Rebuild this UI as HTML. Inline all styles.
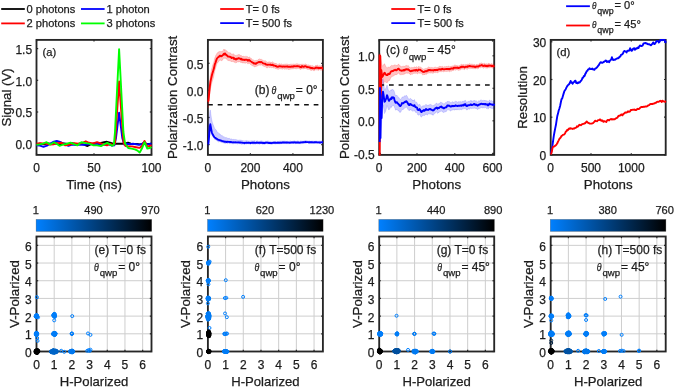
<!DOCTYPE html>
<html><head><meta charset="utf-8"><title>figure</title>
<style>html,body{margin:0;padding:0;background:#fff;}body{width:674px;height:387px;overflow:hidden;font-family:"Liberation Sans",sans-serif;}svg{display:block;will-change:transform;}text{stroke:#1c1c1c;stroke-width:0.25px;}</style>
</head><body>
<svg width="674" height="387" viewBox="0 0 674 387" font-family="'Liberation Sans', sans-serif" fill="#1c1c1c">
<rect width="674" height="387" fill="#fff"/>
<defs><linearGradient id="cb" x1="0" x2="1" y1="0" y2="0"><stop offset="0" stop-color="#0080ff"/><stop offset="1" stop-color="#000"/></linearGradient>
<clipPath id="ct0"><rect x="35.6" y="39.0" width="116.8" height="116.8"/></clipPath>
<clipPath id="cbt0"><rect x="32.5" y="232.5" width="123.0" height="123.0"/></clipPath>
<clipPath id="ct1"><rect x="207" y="39.0" width="116.8" height="116.8"/></clipPath>
<clipPath id="cbt1"><rect x="203.9" y="232.5" width="123.0" height="123.0"/></clipPath>
<clipPath id="ct2"><rect x="378.3" y="39.0" width="116.8" height="116.8"/></clipPath>
<clipPath id="cbt2"><rect x="375.2" y="232.5" width="123.0" height="123.0"/></clipPath>
<clipPath id="ct3"><rect x="549.8" y="39.0" width="116.8" height="116.8"/></clipPath>
<clipPath id="cbt3"><rect x="546.7" y="232.5" width="123.0" height="123.0"/></clipPath>
</defs>
<rect x="36.5" y="39.9" width="115" height="115" fill="none" stroke="#262626" stroke-width="1.85"/>
<line x1="36.5" y1="154.9" x2="36.5" y2="153.2" stroke="#262626" stroke-width="1.2"/>
<line x1="36.5" y1="39.9" x2="36.5" y2="41.6" stroke="#262626" stroke-width="1.2"/>
<line x1="94" y1="154.9" x2="94" y2="153.2" stroke="#262626" stroke-width="1.2"/>
<line x1="94" y1="39.9" x2="94" y2="41.6" stroke="#262626" stroke-width="1.2"/>
<line x1="151.5" y1="154.9" x2="151.5" y2="153.2" stroke="#262626" stroke-width="1.2"/>
<line x1="151.5" y1="39.9" x2="151.5" y2="41.6" stroke="#262626" stroke-width="1.2"/>
<line x1="36.5" y1="143.7" x2="38.2" y2="143.7" stroke="#262626" stroke-width="1.2"/>
<line x1="151.5" y1="143.7" x2="149.8" y2="143.7" stroke="#262626" stroke-width="1.2"/>
<line x1="36.5" y1="112" x2="38.2" y2="112" stroke="#262626" stroke-width="1.2"/>
<line x1="151.5" y1="112" x2="149.8" y2="112" stroke="#262626" stroke-width="1.2"/>
<line x1="36.5" y1="80.3" x2="38.2" y2="80.3" stroke="#262626" stroke-width="1.2"/>
<line x1="151.5" y1="80.3" x2="149.8" y2="80.3" stroke="#262626" stroke-width="1.2"/>
<line x1="36.5" y1="48.6" x2="38.2" y2="48.6" stroke="#262626" stroke-width="1.2"/>
<line x1="151.5" y1="48.6" x2="149.8" y2="48.6" stroke="#262626" stroke-width="1.2"/>
<g clip-path="url(#ct0)">
<path d="M36.5,144.2 L40,143.6 L44,144.3 L48,143.4 L52,144 L56,143.3 L60,144.2 L64,143.5 L68,144 L72,143.2 L76,144.1 L80,143.6 L84,144.6 L87.5,146 L90,144.6 L93,143.6 L97,143.2 L101,142.9 L104,142.3 L107,141.8 L110,142.6 L113,143.6 L116,143.7 L119,143.7 L122,143.7 L125,143.6 L128,142.6 L131,143.6 L134,143.9 L137,144 L140,144.4 L143,143.6 L146,144.2 L149,143.9 L151.5,143.8" fill="none" stroke="#000" stroke-width="1.9" stroke-linejoin="round" />
<path d="M36.5,145.2 L40,145.6 L43.5,146.8 L47,145.6 L50,143.8 L53,142 L56.8,140.9 L60,141.8 L64.4,144 L68.4,145.8 L72,144.6 L76,145 L80,144.6 L84,144.8 L88,144.4 L92,144 L96,143.6 L100,144.2 L104,144.6 L108,144 L112,145.6 L114.4,145.2 L116,138 L119.1,112.63 L122.3,138 L124.2,144.5 L127,143.8 L130,144.2 L133,143.8 L136,144.3 L139,144.8 L142,144 L144.5,141.8 L147,144.6 L150,143.8 L151.5,143.8" fill="none" stroke="#0000ff" stroke-width="1.9" stroke-linejoin="round" />
<path d="M36.5,143.6 L40,143.2 L45.7,143.6 L50,144.6 L54,144.2 L58,143.2 L61.7,142.7 L65.3,145.4 L69,144.8 L74.2,143.1 L78,143.8 L82,143 L85.8,141.3 L89,142.8 L93,143.4 L97,142.2 L100,143.2 L104,144.6 L107,145.4 L110,144 L113.5,145 L115,143 L116.2,125 L119.1,81.57 L122.2,125 L123.6,143 L125.5,146 L128,146.2 L132,146.4 L136,147.2 L139.5,147.9 L142,146 L144.5,140.9 L147,146.4 L150,146 L151.5,145.2" fill="none" stroke="#ff0000" stroke-width="1.9" stroke-linejoin="round" />
<path d="M36.5,144.8 L40,144.4 L43,143.6 L46.6,142.2 L50.1,144.5 L54.1,142.2 L57,144 L59.5,145.8 L63,144.6 L66.2,144 L70.6,142.7 L74,144.2 L77.3,145.4 L81.3,142.2 L85.8,143.1 L89.3,143.6 L93,145.2 L97,145.4 L101,146.1 L104,144.4 L107.2,142.9 L110,144.4 L112.1,145.8 L113.9,144.6 L115,132 L119.1,49.23 L123.4,132 L125,143.5 L128.2,148 L131.5,148.6 L134.9,149.4 L137.5,150.6 L139.7,152.5 L142.2,148 L144.5,142.2 L147.3,148.5 L150,148 L151.5,147" fill="none" stroke="#00ff00" stroke-width="1.9" stroke-linejoin="round" />
</g>
<text x="36.5" y="172.2" font-size="12" text-anchor="middle" >0</text>
<text x="94" y="172.2" font-size="12" text-anchor="middle" >50</text>
<text x="151.5" y="172.2" font-size="12" text-anchor="middle" >100</text>
<text x="32.1" y="148.95" font-size="12" text-anchor="end" >0.0</text>
<text x="32.1" y="117.25" font-size="12" text-anchor="end" >0.5</text>
<text x="32.1" y="85.55" font-size="12" text-anchor="end" >1.0</text>
<text x="32.1" y="53.85" font-size="12" text-anchor="end" >1.5</text>
<text x="94" y="189" font-size="13.3" text-anchor="middle" >Time (ns)</text>
<text transform="translate(10.8,97.4) rotate(-90)" font-size="13.3" text-anchor="middle">Signal (V)</text>
<text x="42.6" y="56.2" font-size="11.2" text-anchor="start" >(a)</text>
<line x1="1.2" y1="9.0" x2="24.8" y2="9.0" stroke="#000" stroke-width="1.8"/>
<text x="26.6" y="12.9" font-size="11.1" text-anchor="start" >0 photons</text>
<line x1="81.0" y1="9.0" x2="104.6" y2="9.0" stroke="#0000ff" stroke-width="1.8"/>
<text x="106.6" y="12.9" font-size="11.1" text-anchor="start" >1 photon</text>
<line x1="1.2" y1="23.4" x2="24.8" y2="23.4" stroke="#ff0000" stroke-width="1.8"/>
<text x="26.6" y="27.3" font-size="11.1" text-anchor="start" >2 photons</text>
<line x1="81.0" y1="23.4" x2="104.6" y2="23.4" stroke="#00ff00" stroke-width="1.8"/>
<text x="106.6" y="27.3" font-size="11.1" text-anchor="start" >3 photons</text>
<rect x="207.9" y="39.9" width="115" height="115" fill="none" stroke="#262626" stroke-width="1.85"/>
<line x1="207.9" y1="154.9" x2="207.9" y2="153.2" stroke="#262626" stroke-width="1.2"/>
<line x1="207.9" y1="39.9" x2="207.9" y2="41.6" stroke="#262626" stroke-width="1.2"/>
<line x1="250.4" y1="154.9" x2="250.4" y2="153.2" stroke="#262626" stroke-width="1.2"/>
<line x1="250.4" y1="39.9" x2="250.4" y2="41.6" stroke="#262626" stroke-width="1.2"/>
<line x1="292.9" y1="154.9" x2="292.9" y2="153.2" stroke="#262626" stroke-width="1.2"/>
<line x1="292.9" y1="39.9" x2="292.9" y2="41.6" stroke="#262626" stroke-width="1.2"/>
<line x1="207.9" y1="63.3" x2="209.6" y2="63.3" stroke="#262626" stroke-width="1.2"/>
<line x1="322.9" y1="63.3" x2="321.2" y2="63.3" stroke="#262626" stroke-width="1.2"/>
<line x1="207.9" y1="90.4" x2="209.6" y2="90.4" stroke="#262626" stroke-width="1.2"/>
<line x1="322.9" y1="90.4" x2="321.2" y2="90.4" stroke="#262626" stroke-width="1.2"/>
<line x1="207.9" y1="117.5" x2="209.6" y2="117.5" stroke="#262626" stroke-width="1.2"/>
<line x1="322.9" y1="117.5" x2="321.2" y2="117.5" stroke="#262626" stroke-width="1.2"/>
<line x1="207.9" y1="144.6" x2="209.6" y2="144.6" stroke="#262626" stroke-width="1.2"/>
<line x1="322.9" y1="144.6" x2="321.2" y2="144.6" stroke="#262626" stroke-width="1.2"/>
<g clip-path="url(#ct1)">
<path d="M208,95.04 L208.5,93.66 L209,88.05 L209.5,82.65 L210,77.85 L210.5,74.36 L211,71.94 L211.5,69.17 L212,67.68 L212.5,65.66 L213,64.31 L213.5,62.96 L214,61.29 L214.5,58.92 L215,57.37 L215.5,56.33 L216,54.67 L216.5,54.19 L217,53.19 L217.5,52.91 L218,52.23 L218.5,51.72 L219,52.08 L219.5,51.46 L220,51.19 L220.5,51.42 L221,51.98 L221.5,51.55 L222,51.79 L222.5,51.06 L223,50.72 L223.5,49.83 L224,49.03 L224.5,50.61 L225,49.38 L225.5,50.21 L226,50.98 L226.5,50.85 L227,50.81 L227.5,52.01 L228,52.45 L228.5,52.41 L229,52.74 L229.5,52.65 L230,52.65 L230.5,52.99 L231,53.34 L231.5,54.28 L232,54.25 L232.5,54.03 L233,54.15 L233.5,53.69 L234,55.33 L234.5,54.66 L235,55.42 L235.5,55.62 L236,55.93 L236.5,55.15 L237,55.53 L237.5,55.05 L238,54.63 L238.5,54.48 L239,54.67 L239.5,54.56 L240,55.26 L240.5,55.28 L241,56.18 L241.5,55.51 L242,56.24 L242.5,56.6 L243,56.02 L243.5,56.26 L244,56.38 L244.5,56.48 L245,56.69 L245.5,56.27 L246,56.72 L246.5,56.33 L247,56.65 L247.5,56.55 L248,57.62 L248.5,57.43 L249,56.83 L249.5,56.91 L250,57.82 L250.5,57.91 L251,58.8 L251.5,58.6 L252,59.25 L252.5,60.04 L253,59.78 L253.5,59.83 L254,60.69 L254.5,60.77 L255,60.49 L255.5,60.57 L256,60.71 L256.5,60.16 L257,59.95 L257.5,60.24 L258,59.69 L258.5,59.51 L259,59.06 L259.5,58.74 L260,59.32 L260.5,59.33 L261,59.16 L261.5,59.19 L262,59.9 L262.5,60.07 L263,60.4 L263.5,60.4 L264,60.9 L264.5,61.14 L265,60.37 L265.5,61.18 L266,61.48 L266.5,61.48 L267,62.19 L267.5,62.27 L268,62.1 L268.5,62.01 L269,61.68 L269.5,61.87 L270,62.12 L270.5,62.26 L271,62.05 L271.5,62.52 L272,62.46 L272.5,61.62 L273,62.64 L273.5,62.81 L274,62.87 L274.5,63.22 L275,62.98 L275.5,63.58 L276,63.1 L276.5,63.93 L277,63.74 L277.5,64.24 L278,64.55 L278.5,64.18 L279,63.61 L279.5,64.03 L280,63.61 L280.5,64.42 L281,63.8 L281.5,63.97 L282,64.23 L282.5,64.41 L283,64.49 L283.5,64.33 L284,63.92 L284.5,64.19 L285,64.45 L285.5,64.1 L286,64.54 L286.5,63.89 L287,63.81 L287.5,63.96 L288,64.69 L288.5,64.6 L289,64.19 L289.5,64.58 L290,63.88 L290.5,64.22 L291,64.58 L291.5,64.15 L292,64.17 L292.5,64.18 L293,64.38 L293.5,63.98 L294,64.11 L294.5,64.16 L295,63.96 L295.5,64.02 L296,63.94 L296.5,63.72 L297,63.87 L297.5,63.92 L298,63.66 L298.5,64.29 L299,63.84 L299.5,64.15 L300,64.91 L300.5,64.31 L301,64.75 L301.5,64.07 L302,63.89 L302.5,64.16 L303,64.43 L303.5,64.29 L304,64.78 L304.5,64.2 L305,64.15 L305.5,63.9 L306,63.9 L306.5,64.54 L307,64.62 L307.5,65.05 L308,65.19 L308.5,64.79 L309,65.03 L309.5,65.1 L310,65.7 L310.5,65.37 L311,65.95 L311.5,65.79 L312,65.81 L312.5,65.56 L313,66.25 L313.5,66.25 L314,66.24 L314.5,66.6 L315,66.06 L315.5,65.75 L316,64.97 L316.5,65.88 L317,65.29 L317.5,65.15 L318,65.5 L318.5,66.27 L319,65.61 L319.5,65.88 L320,65.87 L320.5,66.02 L321,65.41 L321.5,65.38 L322,65.83 L322.5,66.59 L322.9,66.03 L322.9,70.62 L322.5,70.81 L322,70.13 L321.5,70.19 L321,69.34 L320.5,70.39 L320,69.81 L319.5,69.64 L319,70.02 L318.5,70.59 L318,69.85 L317.5,70.05 L317,69.89 L316.5,70.04 L316,69.58 L315.5,70.08 L315,70.24 L314.5,70.64 L314,70.61 L313.5,70.6 L313,70.46 L312.5,69.87 L312,70.3 L311.5,70.25 L311,70.78 L310.5,69.79 L310,70.06 L309.5,69.33 L309,69.57 L308.5,69.41 L308,69.27 L307.5,69.54 L307,69.1 L306.5,68.91 L306,68.95 L305.5,68.3 L305,68.91 L304.5,68.45 L304,69 L303.5,68.88 L303,69.1 L302.5,68.94 L302,68.3 L301.5,69 L301,69.3 L300.5,69.44 L300,69.42 L299.5,68.64 L299,68.84 L298.5,68.17 L298,68.53 L297.5,68.55 L297,68.43 L296.5,68.83 L296,68.91 L295.5,68.67 L295,68.66 L294.5,68.38 L294,68.78 L293.5,68.77 L293,69.08 L292.5,68.89 L292,68.75 L291.5,69.03 L291,69 L290.5,69.17 L290,69.12 L289.5,69.54 L289,69.2 L288.5,69.46 L288,69.44 L287.5,68.92 L287,69.17 L286.5,69.15 L286,68.97 L285.5,68.9 L285,69.47 L284.5,69.07 L284,68.68 L283.5,68.65 L283,68.78 L282.5,69.18 L282,69.22 L281.5,68.87 L281,68.68 L280.5,68.76 L280,68.65 L279.5,68.71 L279,68.7 L278.5,69.41 L278,69.1 L277.5,69.2 L277,69.1 L276.5,68.84 L276,68.59 L275.5,68.57 L275,68.48 L274.5,67.92 L274,67.8 L273.5,68.01 L273,67.9 L272.5,67.26 L272,67.44 L271.5,67.94 L271,67.64 L270.5,67.25 L270,67.49 L269.5,67.46 L269,67.59 L268.5,66.91 L268,67.5 L267.5,67.76 L267,67.54 L266.5,67.66 L266,67.5 L265.5,66.84 L265,66.33 L264.5,66.67 L264,66.01 L263.5,66.11 L263,66.31 L262.5,65.39 L262,65.06 L261.5,64.95 L261,65.23 L260.5,65.2 L260,65.1 L259.5,65.13 L259,64.86 L258.5,65.31 L258,65.69 L257.5,65.88 L257,66 L256.5,66.25 L256,66.4 L255.5,66.55 L255,66.67 L254.5,66.84 L254,66.78 L253.5,65.97 L253,66.02 L252.5,65.96 L252,65.43 L251.5,65.15 L251,64.54 L250.5,64.52 L250,63.76 L249.5,63.44 L249,62.65 L248.5,63.72 L248,63.65 L247.5,63.62 L247,63.27 L246.5,62.64 L246,62.98 L245.5,63.25 L245,62.91 L244.5,63.11 L244,62.89 L243.5,62.94 L243,63 L242.5,62.9 L242,62.86 L241.5,61.84 L241,62.87 L240.5,61.93 L240,62.02 L239.5,61.69 L239,61.9 L238.5,61.95 L238,62.08 L237.5,61.77 L237,62.45 L236.5,62.38 L236,62.75 L235.5,62.8 L235,62.34 L234.5,62.13 L234,62.5 L233.5,61.23 L233,61.58 L232.5,61.57 L232,61.36 L231.5,61.96 L231,61 L230.5,61.13 L230,60.6 L229.5,60.74 L229,60.57 L228.5,60.57 L228,60.85 L227.5,60.09 L227,59.32 L226.5,59.03 L226,58.98 L225.5,58.23 L225,57.88 L224.5,58.54 L224,57.72 L223.5,58.07 L223,59.59 L222.5,59.76 L222,60.7 L221.5,60.67 L221,60.37 L220.5,60.26 L220,60.12 L219.5,60.29 L219,61.34 L218.5,61.55 L218,62.55 L217.5,62.36 L217,63.73 L216.5,65.03 L216,66.81 L215.5,68.38 L215,70.01 L214.5,72.18 L214,74.99 L213.5,77.28 L213,79.1 L212.5,80.48 L212,82.3 L211.5,84.43 L211,86.62 L210.5,88.64 L210,91.86 L209.5,96.06 L209,102.39 L208.5,107.06 L208,107.82Z" fill="#ff0000" fill-opacity="0.24" stroke="#ff0000" stroke-opacity="0.312" stroke-width="0.5"/>
<path d="M208.3,126.61 L208.8,123.14 L209.3,118.09 L209.8,111.63 L210.3,109.91 L210.8,113.58 L211.3,117.32 L211.8,120 L212.3,122.2 L212.8,123.81 L213.3,125.02 L213.8,126.1 L214.3,127.56 L214.8,128.7 L215.3,129.14 L215.8,129.53 L216.3,130.24 L216.8,131.28 L217.3,131.93 L217.8,132.64 L218.3,132.71 L218.8,133.21 L219.3,133.64 L219.8,133.81 L220.3,134.82 L220.8,134.7 L221.3,135.57 L221.8,135.76 L222.3,135.51 L222.8,136.68 L223.3,136.69 L223.8,136.83 L224.3,136.74 L224.8,137.38 L225.3,137.63 L225.8,137.62 L226.3,137.41 L226.8,137.97 L227.3,137.86 L227.8,138.5 L228.3,138.52 L228.8,138.31 L229.3,138.37 L229.8,138.44 L230.3,138.92 L230.8,138.95 L231.3,139.07 L231.8,138.73 L232.3,139.42 L232.8,139.42 L233.3,139.35 L233.8,139.36 L234.3,139.37 L234.8,139.63 L235.3,139.46 L235.8,139.6 L236.3,139.73 L236.8,139.74 L237.3,139.97 L237.8,140.01 L238.3,140.23 L238.8,140.03 L239.3,139.97 L239.8,139.99 L240.3,140.09 L240.8,139.98 L241.3,140.25 L241.8,140.04 L242.3,140.54 L242.8,140.83 L243.3,140.86 L243.8,140.81 L244.3,141.02 L244.8,140.7 L245.3,140.62 L245.8,140.99 L246.3,140.7 L246.8,140.43 L247.3,140.65 L247.8,140.94 L248.3,140.96 L248.8,140.91 L249.3,140.73 L249.8,141.28 L250.3,140.81 L250.8,141.22 L251.3,140.67 L251.8,140.91 L252.3,140.76 L252.8,141.1 L253.3,140.96 L253.8,140.83 L254.3,140.62 L254.8,140.82 L255.3,140.79 L255.8,141.46 L256.3,141.07 L256.8,140.91 L257.3,140.74 L257.8,141.1 L258.3,141.53 L258.8,140.94 L259.3,141 L259.8,141.66 L260.3,141.06 L260.8,140.87 L261.3,140.74 L261.8,141.11 L262.3,141.33 L262.8,140.9 L263.3,141.28 L263.8,141.51 L264.3,141.89 L264.8,141.2 L265.3,141.42 L265.8,140.97 L266.3,141.09 L266.8,141.3 L267.3,140.8 L267.8,141.21 L268.3,141.02 L268.8,141.31 L269.3,141.5 L269.8,141.45 L270.3,141.66 L270.8,141.23 L271.3,141.41 L271.8,141.89 L272.3,141.43 L272.8,141.45 L273.3,141.82 L273.8,141.52 L274.3,141.38 L274.8,141.35 L275.3,141.03 L275.8,141.55 L276.3,141.36 L276.8,141.49 L277.3,141.48 L277.8,141.16 L278.3,141.93 L278.8,141.16 L279.3,141.2 L279.8,140.97 L280.3,141.03 L280.8,141.2 L281.3,141.4 L281.8,140.78 L282.3,141.07 L282.8,141.18 L283.3,140.96 L283.8,141.14 L284.3,141.04 L284.8,140.96 L285.3,141.14 L285.8,141.21 L286.3,141.39 L286.8,141.17 L287.3,141.21 L287.8,141.09 L288.3,141.57 L288.8,141.26 L289.3,141.01 L289.8,141.31 L290.3,140.84 L290.8,141.28 L291.3,141.33 L291.8,141.56 L292.3,141.03 L292.8,141.28 L293.3,140.97 L293.8,141.02 L294.3,140.77 L294.8,140.93 L295.3,141.07 L295.8,141.47 L296.3,141.28 L296.8,141.26 L297.3,140.73 L297.8,141.03 L298.3,141.19 L298.8,140.98 L299.3,141.45 L299.8,141.13 L300.3,140.66 L300.8,141.13 L301.3,140.9 L301.8,140.98 L302.3,141.31 L302.8,140.74 L303.3,141.05 L303.8,140.99 L304.3,140.94 L304.8,140.58 L305.3,140.83 L305.8,140.28 L306.3,140.84 L306.8,140.68 L307.3,140.79 L307.8,140.89 L308.3,140.82 L308.8,141.18 L309.3,140.98 L309.8,140.75 L310.3,141.38 L310.8,141.01 L311.3,140.93 L311.8,141.1 L312.3,140.89 L312.8,141.07 L313.3,140.98 L313.8,141.16 L314.3,141.09 L314.8,141.27 L315.3,140.96 L315.8,141.06 L316.3,141 L316.8,140.97 L317.3,141.14 L317.8,141.16 L318.3,141.67 L318.8,140.84 L319.3,140.95 L319.8,141.11 L320.3,141.11 L320.8,141.08 L321.3,141.06 L321.8,140.81 L322.3,141.01 L322.8,140.98 L322.9,141.13 L322.9,143.03 L322.8,143.37 L322.3,143.28 L321.8,143.03 L321.3,143.26 L320.8,143.57 L320.3,143.4 L319.8,143.47 L319.3,143.39 L318.8,143.47 L318.3,143.37 L317.8,143.55 L317.3,143.35 L316.8,143.79 L316.3,142.73 L315.8,143.4 L315.3,143.35 L314.8,143.51 L314.3,143.25 L313.8,143.53 L313.3,143.42 L312.8,143.41 L312.3,143.31 L311.8,143.46 L311.3,143.19 L310.8,142.99 L310.3,143.51 L309.8,143.14 L309.3,143.79 L308.8,143.37 L308.3,143.2 L307.8,142.84 L307.3,142.94 L306.8,143.29 L306.3,142.98 L305.8,143.1 L305.3,143.49 L304.8,143.41 L304.3,143.32 L303.8,142.93 L303.3,143.31 L302.8,143.53 L302.3,143.42 L301.8,143.57 L301.3,143.69 L300.8,144.06 L300.3,143.41 L299.8,143.66 L299.3,143.63 L298.8,143.47 L298.3,143.87 L297.8,143.32 L297.3,143.4 L296.8,143.38 L296.3,143.67 L295.8,143.07 L295.3,143.99 L294.8,143.65 L294.3,143.4 L293.8,143.39 L293.3,143.96 L292.8,143.26 L292.3,143.5 L291.8,143.46 L291.3,143.46 L290.8,143.04 L290.3,143.67 L289.8,143.86 L289.3,143.56 L288.8,143.85 L288.3,143.58 L287.8,143.41 L287.3,143.8 L286.8,143.75 L286.3,143.57 L285.8,143.16 L285.3,143.79 L284.8,143.7 L284.3,143.62 L283.8,143.82 L283.3,143.42 L282.8,143.48 L282.3,143.91 L281.8,143.35 L281.3,143.82 L280.8,143.96 L280.3,143.64 L279.8,144.09 L279.3,143.89 L278.8,143.86 L278.3,143.79 L277.8,143.73 L277.3,143.89 L276.8,144.04 L276.3,143.71 L275.8,143.82 L275.3,144.13 L274.8,143.78 L274.3,143.95 L273.8,143.86 L273.3,143.57 L272.8,144.01 L272.3,144.16 L271.8,144.11 L271.3,144.57 L270.8,143.92 L270.3,144.22 L269.8,144.03 L269.3,144.04 L268.8,143.95 L268.3,143.75 L267.8,144.2 L267.3,143.57 L266.8,143.43 L266.3,143.64 L265.8,143.99 L265.3,143.94 L264.8,144.39 L264.3,144.2 L263.8,144.05 L263.3,144.25 L262.8,144.13 L262.3,144.31 L261.8,143.66 L261.3,143.99 L260.8,143.42 L260.3,143.86 L259.8,144.4 L259.3,143.95 L258.8,144.18 L258.3,143.37 L257.8,144.11 L257.3,143.81 L256.8,143.7 L256.3,143.62 L255.8,143.95 L255.3,144.23 L254.8,143.92 L254.3,144.18 L253.8,143.64 L253.3,144.38 L252.8,143.96 L252.3,144.06 L251.8,143.67 L251.3,143.68 L250.8,144.3 L250.3,144.44 L249.8,144.06 L249.3,144.07 L248.8,143.81 L248.3,143.98 L247.8,143.52 L247.3,143.8 L246.8,143.74 L246.3,144.2 L245.8,143.91 L245.3,144.06 L244.8,144.35 L244.3,144.63 L243.8,144.1 L243.3,144.09 L242.8,143.89 L242.3,144.2 L241.8,144.35 L241.3,144.17 L240.8,144.14 L240.3,143.36 L239.8,143.87 L239.3,143.69 L238.8,143.23 L238.3,143.87 L237.8,144.01 L237.3,144.1 L236.8,143.81 L236.3,143.57 L235.8,143.64 L235.3,143.52 L234.8,143.42 L234.3,143.35 L233.8,143.95 L233.3,143.83 L232.8,143.82 L232.3,143.7 L231.8,143.47 L231.3,143.75 L230.8,143.82 L230.3,143.29 L229.8,143.87 L229.3,143.79 L228.8,143.1 L228.3,142.96 L227.8,143.16 L227.3,143.68 L226.8,143.37 L226.3,142.93 L225.8,143.35 L225.3,143.45 L224.8,143.14 L224.3,143.18 L223.8,142.91 L223.3,142.99 L222.8,142.77 L222.3,142.68 L221.8,142.15 L221.3,142.52 L220.8,141.93 L220.3,141.93 L219.8,141.73 L219.3,141.54 L218.8,141.97 L218.3,141.92 L217.8,141.49 L217.3,140.84 L216.8,140.81 L216.3,140.26 L215.8,139.93 L215.3,139.58 L214.8,139.61 L214.3,138.99 L213.8,137.66 L213.3,137.21 L212.8,136.56 L212.3,135.93 L211.8,134.09 L211.3,131.9 L210.8,129.23 L210.3,126.46 L209.8,129.22 L209.3,135.78 L208.8,141.89 L208.3,146.74Z" fill="#0000ff" fill-opacity="0.2" stroke="#0000ff" stroke-opacity="0.26" stroke-width="0.5"/>
<line x1="207.9" y1="104.8" x2="322.9" y2="104.8" stroke="#111" stroke-width="1.45" stroke-dasharray="4.7 4.9" stroke-dashoffset="-0.2"/>
<path d="M208,101.55 L208.5,100.4 L209,95.07 L209.5,89.58 L210,84.99 L210.5,81.46 L211,79.12 L211.5,76.99 L212,74.77 L212.5,73.02 L213,71.62 L213.5,69.68 L214,68.14 L214.5,65.72 L215,63.79 L215.5,62.58 L216,61.11 L216.5,59.68 L217,58.33 L217.5,57.87 L218,57.38 L218.5,56.95 L219,56.84 L219.5,55.91 L220,55.76 L220.5,55.71 L221,56.36 L221.5,56.07 L222,56.08 L222.5,55.3 L223,55.13 L223.5,54.11 L224,53.65 L224.5,54.43 L225,53.45 L225.5,54.25 L226,54.81 L226.5,54.99 L227,55.5 L227.5,55.96 L228,56.56 L228.5,56.59 L229,56.61 L229.5,56.7 L230,56.68 L230.5,57.1 L231,57.22 L231.5,58.08 L232,57.73 L232.5,57.77 L233,57.91 L233.5,57.69 L234,58.95 L234.5,58.53 L235,58.97 L235.5,58.99 L236,59.49 L236.5,58.66 L237,58.92 L237.5,58.51 L238,58.31 L238.5,58.09 L239,58.51 L239.5,58.34 L240,58.54 L240.5,58.84 L241,59.53 L241.5,58.85 L242,59.44 L242.5,59.75 L243,59.62 L243.5,59.75 L244,59.61 L244.5,60 L245,59.92 L245.5,59.74 L246,59.58 L246.5,59.64 L247,59.86 L247.5,59.9 L248,60.76 L248.5,60.46 L249,59.85 L249.5,60.32 L250,60.74 L250.5,61.21 L251,61.49 L251.5,61.77 L252,62.16 L252.5,62.68 L253,62.78 L253.5,62.92 L254,63.67 L254.5,63.64 L255,63.22 L255.5,63.7 L256,63.68 L256.5,63.3 L257,62.82 L257.5,62.8 L258,62.48 L258.5,62.22 L259,61.96 L259.5,61.94 L260,62.33 L260.5,62.25 L261,61.93 L261.5,62.2 L262,62.39 L262.5,62.85 L263,63.34 L263.5,63.43 L264,63.55 L264.5,63.7 L265,63.59 L265.5,63.98 L266,64.49 L266.5,64.64 L267,64.69 L267.5,64.76 L268,64.7 L268.5,64.62 L269,64.67 L269.5,64.63 L270,64.71 L270.5,64.51 L271,64.86 L271.5,65.08 L272,64.97 L272.5,64.62 L273,64.94 L273.5,65.5 L274,65.5 L274.5,65.59 L275,65.66 L275.5,66.05 L276,65.98 L276.5,66.43 L277,66.48 L277.5,66.78 L278,66.76 L278.5,66.67 L279,66.28 L279.5,66.17 L280,66.18 L280.5,66.42 L281,66.5 L281.5,66.33 L282,66.47 L282.5,66.72 L283,66.63 L283.5,66.49 L284,66.38 L284.5,66.62 L285,66.75 L285.5,66.48 L286,66.6 L286.5,66.49 L287,66.33 L287.5,66.71 L288,66.9 L288.5,66.68 L289,66.7 L289.5,66.83 L290,66.65 L290.5,66.63 L291,66.83 L291.5,66.33 L292,66.44 L292.5,66.62 L293,66.7 L293.5,66.29 L294,66.37 L294.5,66.13 L295,66.29 L295.5,66.42 L296,66.42 L296.5,66.21 L297,66.09 L297.5,66.36 L298,66.13 L298.5,66.31 L299,66.45 L299.5,66.37 L300,66.98 L300.5,66.88 L301,67.33 L301.5,66.64 L302,66.03 L302.5,66.43 L303,66.68 L303.5,66.66 L304,66.72 L304.5,66.32 L305,66.34 L305.5,66.27 L306,66.43 L306.5,66.86 L307,67 L307.5,67.21 L308,67.13 L308.5,67.15 L309,67.31 L309.5,67.36 L310,67.81 L310.5,67.64 L311,68.22 L311.5,67.96 L312,68.23 L312.5,67.98 L313,68.39 L313.5,68.34 L314,68.37 L314.5,68.48 L315,68.23 L315.5,67.92 L316,67.43 L316.5,67.86 L317,67.72 L317.5,67.64 L318,67.73 L318.5,68.3 L319,67.84 L319.5,67.96 L320,67.9 L320.5,68.09 L321,67.66 L321.5,67.67 L322,68 L322.5,68.44 L322.9,68.2" fill="none" stroke="#ff0000" stroke-width="1.9" stroke-linejoin="round" />
<path d="M208.3,144.42 L208.8,139.85 L209.3,133.49 L209.8,126.92 L210.3,124.24 L210.8,127 L211.3,129.73 L211.8,132.18 L212.3,133.77 L212.8,134.58 L213.3,135.47 L213.8,136.3 L214.3,137.11 L214.8,137.52 L215.3,137.82 L215.8,138.21 L216.3,138.67 L216.8,138.97 L217.3,139.17 L217.8,139.56 L218.3,139.77 L218.8,139.94 L219.3,140.12 L219.8,140.23 L220.3,140.35 L220.8,140.48 L221.3,140.79 L221.8,140.92 L222.3,141.05 L222.8,141.2 L223.3,141.43 L223.8,141.49 L224.3,141.52 L224.8,141.79 L225.3,141.74 L225.8,141.73 L226.3,141.81 L226.8,141.99 L227.3,141.92 L227.8,141.76 L228.3,141.86 L228.8,141.86 L229.3,141.87 L229.8,141.95 L230.3,142.01 L230.8,142.06 L231.3,142.07 L231.8,142.2 L232.3,142.34 L232.8,142.35 L233.3,142.32 L233.8,142.37 L234.3,142.4 L234.8,142.32 L235.3,142.3 L235.8,142.39 L236.3,142.39 L236.8,142.38 L237.3,142.4 L237.8,142.41 L238.3,142.43 L238.8,142.3 L239.3,142.46 L239.8,142.49 L240.3,142.44 L240.8,142.53 L241.3,142.57 L241.8,142.58 L242.3,142.67 L242.8,142.83 L243.3,142.85 L243.8,142.94 L244.3,143.05 L244.8,142.92 L245.3,142.85 L245.8,142.88 L246.3,142.73 L246.8,142.71 L247.3,142.8 L247.8,142.87 L248.3,142.89 L248.8,142.73 L249.3,142.9 L249.8,142.92 L250.3,142.95 L250.8,142.96 L251.3,142.81 L251.8,142.71 L252.3,142.64 L252.8,142.8 L253.3,142.75 L253.8,142.74 L254.3,142.74 L254.8,142.8 L255.3,142.84 L255.8,142.87 L256.3,142.78 L256.8,142.57 L257.3,142.63 L257.8,142.69 L258.3,142.82 L258.8,142.83 L259.3,142.8 L259.8,142.85 L260.3,142.75 L260.8,142.69 L261.3,142.65 L261.8,142.7 L262.3,142.88 L262.8,142.93 L263.3,143 L263.8,143 L264.3,142.99 L264.8,142.94 L265.3,142.91 L265.8,142.72 L266.3,142.65 L266.8,142.59 L267.3,142.68 L267.8,142.75 L268.3,142.85 L268.8,142.96 L269.3,142.91 L269.8,142.97 L270.3,143.09 L270.8,143.05 L271.3,143.09 L271.8,143.03 L272.3,142.88 L272.8,142.88 L273.3,142.81 L273.8,142.81 L274.3,142.77 L274.8,142.8 L275.3,142.64 L275.8,142.81 L276.3,142.9 L276.8,142.85 L277.3,142.76 L277.8,142.76 L278.3,142.8 L278.8,142.82 L279.3,142.83 L279.8,142.67 L280.3,142.59 L280.8,142.7 L281.3,142.72 L281.8,142.6 L282.3,142.55 L282.8,142.46 L283.3,142.41 L283.8,142.53 L284.3,142.53 L284.8,142.63 L285.3,142.64 L285.8,142.53 L286.3,142.49 L286.8,142.68 L287.3,142.61 L287.8,142.53 L288.3,142.63 L288.8,142.63 L289.3,142.62 L289.8,142.72 L290.3,142.57 L290.8,142.59 L291.3,142.51 L291.8,142.41 L292.3,142.37 L292.8,142.48 L293.3,142.47 L293.8,142.34 L294.3,142.29 L294.8,142.43 L295.3,142.51 L295.8,142.43 L296.3,142.62 L296.8,142.57 L297.3,142.46 L297.8,142.45 L298.3,142.52 L298.8,142.63 L299.3,142.68 L299.8,142.61 L300.3,142.54 L300.8,142.41 L301.3,142.41 L301.8,142.36 L302.3,142.39 L302.8,142.29 L303.3,142.27 L303.8,142.22 L304.3,142.16 L304.8,142.1 L305.3,142.06 L305.8,142.02 L306.3,142.11 L306.8,142.16 L307.3,142.09 L307.8,142.16 L308.3,142.21 L308.8,142.33 L309.3,142.32 L309.8,142.3 L310.3,142.25 L310.8,142.27 L311.3,142.31 L311.8,142.32 L312.3,142.3 L312.8,142.34 L313.3,142.33 L313.8,142.34 L314.3,142.26 L314.8,142.28 L315.3,142.2 L315.8,142.14 L316.3,142.17 L316.8,142.34 L317.3,142.39 L317.8,142.37 L318.3,142.33 L318.8,142.39 L319.3,142.46 L319.8,142.51 L320.3,142.45 L320.8,142.43 L321.3,142.37 L321.8,142.32 L322.3,142.23 L322.8,142.21 L322.9,142.2" fill="none" stroke="#0000ff" stroke-width="1.9" stroke-linejoin="round" />
</g>
<text x="207.9" y="172.2" font-size="12" text-anchor="middle" >0</text>
<text x="250.4" y="172.2" font-size="12" text-anchor="middle" >200</text>
<text x="292.9" y="172.2" font-size="12" text-anchor="middle" >400</text>
<text x="203.5" y="68.55" font-size="12" text-anchor="end" >0.5</text>
<text x="203.5" y="95.65" font-size="12" text-anchor="end" >0.0</text>
<text x="203.5" y="122.75" font-size="12" text-anchor="end" >-0.5</text>
<text x="203.5" y="149.85" font-size="12" text-anchor="end" >-1.0</text>
<text x="265.4" y="189" font-size="13.3" text-anchor="middle" >Photons</text>
<text transform="translate(177.3,97.4) rotate(-90)" font-size="13.3" text-anchor="middle">Polarization Contrast</text>
<text x="254.8" y="93.6" font-size="12" text-anchor="start" >(b)</text>
<text x="271.6" y="93.6" font-size="12" text-anchor="start"><tspan font-style="italic" font-size="10.32" textLength="4.8" lengthAdjust="spacingAndGlyphs">θ</tspan><tspan font-size="9.6" dy="5.64" dx="0.9">qwp</tspan><tspan dy="-5.64" dx="0.9">= 0°</tspan></text>
<line x1="220.2" y1="9.0" x2="243.8" y2="9.0" stroke="#ff0000" stroke-width="1.8"/>
<text x="245.8" y="12.9" font-size="11" text-anchor="start" >T= 0 fs</text>
<line x1="220.2" y1="23.1" x2="243.8" y2="23.1" stroke="#0000ff" stroke-width="1.8"/>
<text x="245.8" y="27" font-size="11" text-anchor="start" >T= 500 fs</text>
<rect x="379.2" y="39.9" width="115" height="115" fill="none" stroke="#262626" stroke-width="1.85"/>
<line x1="379.2" y1="154.9" x2="379.2" y2="153.2" stroke="#262626" stroke-width="1.2"/>
<line x1="379.2" y1="39.9" x2="379.2" y2="41.6" stroke="#262626" stroke-width="1.2"/>
<line x1="416.98" y1="154.9" x2="416.98" y2="153.2" stroke="#262626" stroke-width="1.2"/>
<line x1="416.98" y1="39.9" x2="416.98" y2="41.6" stroke="#262626" stroke-width="1.2"/>
<line x1="454.76" y1="154.9" x2="454.76" y2="153.2" stroke="#262626" stroke-width="1.2"/>
<line x1="454.76" y1="39.9" x2="454.76" y2="41.6" stroke="#262626" stroke-width="1.2"/>
<line x1="492.54" y1="154.9" x2="492.54" y2="153.2" stroke="#262626" stroke-width="1.2"/>
<line x1="492.54" y1="39.9" x2="492.54" y2="41.6" stroke="#262626" stroke-width="1.2"/>
<line x1="379.2" y1="55.8" x2="380.9" y2="55.8" stroke="#262626" stroke-width="1.2"/>
<line x1="494.2" y1="55.8" x2="492.5" y2="55.8" stroke="#262626" stroke-width="1.2"/>
<line x1="379.2" y1="88.3" x2="380.9" y2="88.3" stroke="#262626" stroke-width="1.2"/>
<line x1="494.2" y1="88.3" x2="492.5" y2="88.3" stroke="#262626" stroke-width="1.2"/>
<line x1="379.2" y1="120.8" x2="380.9" y2="120.8" stroke="#262626" stroke-width="1.2"/>
<line x1="494.2" y1="120.8" x2="492.5" y2="120.8" stroke="#262626" stroke-width="1.2"/>
<line x1="379.2" y1="153.3" x2="380.9" y2="153.3" stroke="#262626" stroke-width="1.2"/>
<line x1="494.2" y1="153.3" x2="492.5" y2="153.3" stroke="#262626" stroke-width="1.2"/>
<g clip-path="url(#ct2)">
<path d="M380,53.22 L382.2,65.99 L382.7,66.05 L383.2,65.42 L383.7,64.61 L384.2,63.79 L384.7,63.89 L385.2,65.25 L385.7,66.08 L386.2,67.18 L386.7,67.65 L387.2,67.74 L387.7,67.97 L388.2,66.77 L388.7,67.27 L389.2,67.47 L389.7,67.8 L390.2,66.52 L390.7,65.94 L391.2,65.52 L391.7,65.42 L392.2,65.66 L392.7,65.59 L393.2,65.69 L393.7,65.27 L394.2,64.9 L394.7,65.05 L395.2,64.72 L395.7,65.28 L396.2,65.39 L396.7,65.56 L397.2,65 L397.7,64.98 L398.2,64.41 L398.7,64.09 L399.2,65.01 L399.7,65.83 L400.2,65.87 L400.7,65.96 L401.2,66.65 L401.7,66.67 L402.2,66.48 L402.7,66.33 L403.2,66.45 L403.7,65.99 L404.2,66.06 L404.7,66.5 L405.2,65.85 L405.7,65.69 L406.2,66.01 L406.7,65.22 L407.2,65.5 L407.7,66.19 L408.2,65.54 L408.7,66.29 L409.2,66.73 L409.7,67.56 L410.2,67.35 L410.7,68.22 L411.2,67.7 L411.7,67.26 L412.2,67.56 L412.7,67.54 L413.2,67.64 L413.7,67.26 L414.2,66.8 L414.7,66.95 L415.2,67.92 L415.7,67.07 L416.2,66.93 L416.7,66.47 L417.2,67.72 L417.7,67.72 L418.2,67.03 L418.7,66.25 L419.2,67.19 L419.7,66.69 L420.2,67.17 L420.7,66.95 L421.2,67.73 L421.7,67.99 L422.2,68.45 L422.7,68.65 L423.2,68.98 L423.7,69.19 L424.2,69 L424.7,68.79 L425.2,68.3 L425.7,68.63 L426.2,68.21 L426.7,69.09 L427.2,68.1 L427.7,67.7 L428.2,67.76 L428.7,66.7 L429.2,67.13 L429.7,67.55 L430.2,67.16 L430.7,68.12 L431.2,67.72 L431.7,67.33 L432.2,67.58 L432.7,67.63 L433.2,67.85 L433.7,67.68 L434.2,67.47 L434.7,67.27 L435.2,67.13 L435.7,67.21 L436.2,67.49 L436.7,67.74 L437.2,67.13 L437.7,67.77 L438.2,67.26 L438.7,66.82 L439.2,66.54 L439.7,66.23 L440.2,67.05 L440.7,66.33 L441.2,67.01 L441.7,66.53 L442.2,66.23 L442.7,66.77 L443.2,66.64 L443.7,67.14 L444.2,66.76 L444.7,66.61 L445.2,66.61 L445.7,66.97 L446.2,66.22 L446.7,66.54 L447.2,66.69 L447.7,66.38 L448.2,66.41 L448.7,65.77 L449.2,67.01 L449.7,66.84 L450.2,66.25 L450.7,66.46 L451.2,66.14 L451.7,66.34 L452.2,65.77 L452.7,66.16 L453.2,66.17 L453.7,65.62 L454.2,65.14 L454.7,65.09 L455.2,65.36 L455.7,64.97 L456.2,65.34 L456.7,65.58 L457.2,65.77 L457.7,65.38 L458.2,65.77 L458.7,65.9 L459.2,65.39 L459.7,65.58 L460.2,65.64 L460.7,64.6 L461.2,64.36 L461.7,64.3 L462.2,64.69 L462.7,64.82 L463.2,64.13 L463.7,64.56 L464.2,64.7 L464.7,64.79 L465.2,64.91 L465.7,64.22 L466.2,64.37 L466.7,64.68 L467.2,64.74 L467.7,63.88 L468.2,64.18 L468.7,64.34 L469.2,64.1 L469.7,63.46 L470.2,63.75 L470.7,64.68 L471.2,64.31 L471.7,64.02 L472.2,64.18 L472.7,64.13 L473.2,64.15 L473.7,64.66 L474.2,64.53 L474.7,64.29 L475.2,65.24 L475.7,64.96 L476.2,64.46 L476.7,64.35 L477.2,64.07 L477.7,64.63 L478.2,64.38 L478.7,64.38 L479.2,63.62 L479.7,63.16 L480.2,63.19 L480.7,63.23 L481.2,63.07 L481.7,62.8 L482.2,63.45 L482.7,63.34 L483.2,64.07 L483.7,63.48 L484.2,63.58 L484.7,63.19 L485.2,63.56 L485.7,64.08 L486.2,63.69 L486.7,63.68 L487.2,64.44 L487.7,63.93 L488.2,62.9 L488.7,63.58 L489.2,63.73 L489.7,63.57 L490.2,64.09 L490.7,64 L491.2,63.69 L491.7,63.56 L492.2,64.11 L492.7,63.9 L493.2,64.31 L493.7,63.83 L494.2,63.62 L494.2,67.19 L493.7,68.02 L493.2,68.19 L492.7,68.53 L492.2,67.58 L491.7,67.52 L491.2,68.05 L490.7,67.85 L490.2,67.27 L489.7,67.68 L489.2,67.91 L488.7,68.05 L488.2,67.25 L487.7,68.22 L487.2,68.1 L486.7,68.28 L486.2,67.84 L485.7,68.26 L485.2,67.5 L484.7,67.62 L484.2,67.7 L483.7,68.13 L483.2,68.3 L482.7,67.81 L482.2,67.36 L481.7,67.24 L481.2,67.42 L480.7,67.81 L480.2,67.78 L479.7,67.35 L479.2,67.96 L478.7,68.48 L478.2,68.41 L477.7,68.83 L477.2,68.68 L476.7,68.39 L476.2,68.41 L475.7,68.56 L475.2,69.18 L474.7,68.3 L474.2,68.79 L473.7,68.85 L473.2,68.41 L472.7,68.27 L472.2,68.92 L471.7,68.68 L471.2,68.29 L470.7,68.59 L470.2,68.6 L469.7,68.21 L469.2,68.77 L468.7,68.51 L468.2,68.43 L467.7,68.11 L467.2,69.69 L466.7,69.21 L466.2,68.66 L465.7,68.33 L465.2,68.84 L464.7,69.73 L464.2,69.58 L463.7,69.36 L463.2,69.03 L462.7,68.94 L462.2,69.19 L461.7,69.02 L461.2,69.28 L460.7,69.67 L460.2,69.98 L459.7,69.58 L459.2,70.41 L458.7,70.46 L458.2,69.92 L457.7,69.82 L457.2,70.08 L456.7,69.53 L456.2,70.01 L455.7,70.14 L455.2,70.16 L454.7,70.04 L454.2,69.93 L453.7,70.36 L453.2,70.74 L452.7,70.59 L452.2,70.76 L451.7,70.98 L451.2,71.39 L450.7,70.95 L450.2,71.28 L449.7,72.02 L449.2,71.62 L448.7,71.19 L448.2,71.34 L447.7,71.4 L447.2,71.23 L446.7,71.47 L446.2,71.55 L445.7,71.42 L445.2,71.36 L444.7,71.36 L444.2,71.7 L443.7,71.76 L443.2,71.86 L442.7,71.51 L442.2,71.31 L441.7,71.59 L441.2,71.8 L440.7,71.55 L440.2,71.85 L439.7,71.78 L439.2,71.63 L438.7,72.07 L438.2,72.42 L437.7,72.68 L437.2,73.02 L436.7,72.35 L436.2,72.35 L435.7,72.67 L435.2,72.6 L434.7,72.6 L434.2,72.29 L433.7,73.23 L433.2,72.95 L432.7,73.13 L432.2,73.25 L431.7,73.08 L431.2,72.87 L430.7,73.28 L430.2,72.32 L429.7,73.21 L429.2,72.7 L428.7,72.6 L428.2,73.52 L427.7,73.17 L427.2,73.15 L426.7,74.32 L426.2,74.24 L425.7,74.14 L425.2,74 L424.7,74.98 L424.2,74.42 L423.7,74.95 L423.2,74.61 L422.7,74.94 L422.2,74.56 L421.7,73.35 L421.2,73.32 L420.7,73.5 L420.2,72.71 L419.7,73.22 L419.2,73.33 L418.7,72.76 L418.2,73.37 L417.7,74.01 L417.2,73.78 L416.7,73.32 L416.2,73.19 L415.7,73.11 L415.2,73.63 L414.7,73.22 L414.2,73.31 L413.7,73.24 L413.2,73.84 L412.7,74.12 L412.2,74.36 L411.7,74.05 L411.2,74.61 L410.7,74.66 L410.2,74.65 L409.7,73.67 L409.2,73.95 L408.7,73.19 L408.2,72.87 L407.7,73.43 L407.2,73.07 L406.7,73.05 L406.2,73.33 L405.7,73.59 L405.2,72.92 L404.7,74.23 L404.2,73.94 L403.7,73.92 L403.2,74.84 L402.7,74.55 L402.2,74.58 L401.7,74.92 L401.2,74.31 L400.7,74.65 L400.2,74.72 L399.7,74.38 L399.2,73.97 L398.7,73.1 L398.2,72.94 L397.7,73.57 L397.2,74.44 L396.7,74.84 L396.2,74.17 L395.7,74.91 L395.2,74.5 L394.7,75.27 L394.2,75.36 L393.7,75.69 L393.2,76.17 L392.7,76.25 L392.2,76.51 L391.7,76.89 L391.2,76.94 L390.7,77.98 L390.2,78.92 L389.7,80.52 L389.2,80.43 L388.7,80.89 L388.2,80.54 L387.7,82.39 L387.2,82.45 L386.7,82.51 L386.2,82.63 L385.7,82.11 L385.2,81.86 L384.7,81.45 L384.2,82.27 L383.7,83.74 L383.2,85.47 L382.7,86.58 L382.2,87.71 L380,112.04Z" fill="#ff0000" fill-opacity="0.24" stroke="#ff0000" stroke-opacity="0.312" stroke-width="0.5"/>
<path d="M380,84.39 L383,78.64 L383.5,81.88 L384,85.78 L384.5,90.03 L385,90.34 L385.5,88.81 L386,87.71 L386.5,86.43 L387,84.98 L387.5,86.25 L388,88.96 L388.5,90.33 L389,91.51 L389.5,91.15 L390,90.89 L390.5,90.16 L391,89.83 L391.5,90.5 L392,88.99 L392.5,89.66 L393,89.55 L393.5,89.91 L394,90.69 L394.5,92.27 L395,94.23 L395.5,95.61 L396,95.4 L396.5,95.42 L397,95.2 L397.5,96.15 L398,96.65 L398.5,97.97 L399,97.49 L399.5,98.78 L400,99.23 L400.5,99.5 L401,98.7 L401.5,98.13 L402,97.17 L402.5,97.02 L403,96.8 L403.5,97.06 L404,96.44 L404.5,95.74 L405,95.7 L405.5,96.15 L406,95.29 L406.5,95.41 L407,96.08 L407.5,96.83 L408,98.2 L408.5,98.86 L409,98.95 L409.5,99.12 L410,98.47 L410.5,98.4 L411,99.18 L411.5,99.3 L412,100.11 L412.5,100.1 L413,99.94 L413.5,100.95 L414,99.92 L414.5,99.57 L415,101.41 L415.5,101.99 L416,102.27 L416.5,102.17 L417,102.45 L417.5,104.35 L418,104.55 L418.5,104.93 L419,104.92 L419.5,103.92 L420,104.63 L420.5,105.84 L421,106.65 L421.5,106.93 L422,106.69 L422.5,105.87 L423,105.93 L423.5,105.75 L424,105.62 L424.5,105.72 L425,105.4 L425.5,105.02 L426,104.3 L426.5,105.12 L427,105.18 L427.5,105.34 L428,104.99 L428.5,105.09 L429,104.93 L429.5,104.85 L430,104.21 L430.5,104.4 L431,104.82 L431.5,104.88 L432,105.34 L432.5,105.41 L433,105.91 L433.5,105.48 L434,105.37 L434.5,104.74 L435,104.29 L435.5,104.16 L436,103.52 L436.5,102.99 L437,103.38 L437.5,104.24 L438,103.51 L438.5,103.91 L439,103.57 L439.5,103.56 L440,102.61 L440.5,102.3 L441,102.72 L441.5,102.2 L442,103.02 L442.5,103.16 L443,103.26 L443.5,103.94 L444,103.77 L444.5,103.78 L445,103.33 L445.5,102.5 L446,102.75 L446.5,103 L447,101.4 L447.5,101.46 L448,101.4 L448.5,101.44 L449,101.42 L449.5,101.6 L450,102.39 L450.5,102.73 L451,102.73 L451.5,102.17 L452,101.66 L452.5,101.87 L453,102.22 L453.5,102.3 L454,102.38 L454.5,101.72 L455,101.74 L455.5,101.25 L456,101.62 L456.5,101.51 L457,101.77 L457.5,102.17 L458,101.64 L458.5,101.84 L459,101.67 L459.5,101.65 L460,101.93 L460.5,101.71 L461,101.49 L461.5,102.07 L462,101.53 L462.5,101.32 L463,101.82 L463.5,101.47 L464,100.64 L464.5,101.05 L465,100.39 L465.5,100.38 L466,101.88 L466.5,102.01 L467,101.97 L467.5,101.99 L468,101.35 L468.5,101.44 L469,101.44 L469.5,101.72 L470,100.62 L470.5,100.97 L471,100.33 L471.5,101.6 L472,100.6 L472.5,101.44 L473,101.17 L473.5,100.8 L474,100.2 L474.5,100.5 L475,101.12 L475.5,101.13 L476,100.47 L476.5,101.44 L477,101.64 L477.5,102.02 L478,101.73 L478.5,100.72 L479,100.95 L479.5,100.94 L480,100.5 L480.5,100.08 L481,100.42 L481.5,99.72 L482,100.44 L482.5,100.7 L483,100.36 L483.5,100.39 L484,100.47 L484.5,100.56 L485,100.03 L485.5,100.8 L486,100.77 L486.5,100.9 L487,100.42 L487.5,101.36 L488,101.81 L488.5,101.74 L489,100.75 L489.5,99.81 L490,100.98 L490.5,100.94 L491,100.74 L491.5,100.61 L492,100.95 L492.5,101.27 L493,101.49 L493.5,101.53 L494,101.18 L494.2,100.22 L494.2,107.3 L494,108.51 L493.5,108.39 L493,108.72 L492.5,108.44 L492,108.13 L491.5,108.51 L491,107.67 L490.5,108.01 L490,108.12 L489.5,106.95 L489,107.68 L488.5,108.66 L488,109.24 L487.5,107.95 L487,108.13 L486.5,108.38 L486,108.19 L485.5,107.6 L485,107.6 L484.5,107.85 L484,107.98 L483.5,107.78 L483,107.88 L482.5,107.96 L482,107.92 L481.5,107.45 L481,107.87 L480.5,108.02 L480,108.17 L479.5,108.67 L479,108.5 L478.5,108.39 L478,109.48 L477.5,109.43 L477,108.59 L476.5,108.92 L476,108.11 L475.5,108.42 L475,108.52 L474.5,108.13 L474,107.92 L473.5,108.43 L473,108.2 L472.5,108.34 L472,108.58 L471.5,108.69 L471,108.2 L470.5,107.92 L470,108.92 L469.5,109.15 L469,109.01 L468.5,108.9 L468,109.27 L467.5,109.65 L467,109.99 L466.5,109.82 L466,109.51 L465.5,108.36 L465,108.33 L464.5,108.67 L464,108.54 L463.5,109.11 L463,109.26 L462.5,109.12 L462,109.24 L461.5,109.73 L461,110.02 L460.5,109.27 L460,109.47 L459.5,109.76 L459,109.59 L458.5,109.66 L458,109.79 L457.5,109.64 L457,109.88 L456.5,109.65 L456,110.11 L455.5,109.2 L455,110.2 L454.5,109.91 L454,110.12 L453.5,109.76 L453,110.1 L452.5,110.02 L452,110.21 L451.5,110.27 L451,110.63 L450.5,110.99 L450,110.78 L449.5,110 L449,109.84 L448.5,109.91 L448,109.56 L447.5,109.61 L447,110.54 L446.5,111.36 L446,111.26 L445.5,111.93 L445,112.05 L444.5,112.03 L444,112.54 L443.5,112.42 L443,111.98 L442.5,111.86 L442,111.7 L441.5,111.1 L441,111.08 L440.5,111.42 L440,111.44 L439.5,111.56 L439,112.68 L438.5,112.48 L438,112.57 L437.5,113.49 L437,112.18 L436.5,111.79 L436,112.4 L435.5,112.87 L435,113.26 L434.5,113.63 L434,114.3 L433.5,114.72 L433,115.42 L432.5,114.49 L432,114.93 L431.5,113.94 L431,114.21 L430.5,114.15 L430,113.57 L429.5,114.28 L429,113.75 L428.5,113.85 L428,114.48 L427.5,114.8 L427,115.15 L426.5,114.54 L426,113.79 L425.5,114.65 L425,114.45 L424.5,115.65 L424,114.94 L423.5,115.32 L423,115.94 L422.5,115.74 L422,116.24 L421.5,117.14 L421,116.79 L420.5,116.35 L420,114.75 L419.5,114 L419,114.89 L418.5,115.18 L418,114.85 L417.5,114.51 L417,112.36 L416.5,112.45 L416,112.47 L415.5,112.29 L415,111.8 L414.5,110.43 L414,110.59 L413.5,111.12 L413,111.18 L412.5,111.2 L412,110.4 L411.5,110.28 L411,110.12 L410.5,110.05 L410,109.14 L409.5,110.53 L409,110.71 L408.5,110.12 L408,109.59 L407.5,108.64 L407,107.42 L406.5,107.11 L406,107.31 L405.5,107.84 L405,107.83 L404.5,107.98 L404,108.71 L403.5,109.33 L403,109.84 L402.5,109.68 L402,109.33 L401.5,110.36 L401,111.64 L400.5,112.46 L400,111.8 L399.5,112.38 L399,110.9 L398.5,110.98 L398,110.01 L397.5,110.21 L397,109.71 L396.5,109.14 L396,110.32 L395.5,110 L395,108.59 L394.5,107.31 L394,105.81 L393.5,105.45 L393,105.18 L392.5,105.83 L392,105.93 L391.5,107.46 L391,106.48 L390.5,107.78 L390,108.47 L389.5,109.33 L389,109.98 L388.5,109.65 L388,108.57 L387.5,106.18 L387,105.65 L386.5,108.05 L386,109.91 L385.5,111.45 L385,112.61 L384.5,113.62 L384,110.46 L383.5,107.19 L383,105.06 L380,142.7Z" fill="#0000ff" fill-opacity="0.2" stroke="#0000ff" stroke-opacity="0.26" stroke-width="0.5"/>
<line x1="379.2" y1="85.0" x2="494.2" y2="85.0" stroke="#111" stroke-width="1.45" stroke-dasharray="4.7 4.9" stroke-dashoffset="-0.2"/>
<path d="M379.5,54.5 L379.7,154.9 L380.3,56 L380.8,100 L381.3,70 L382.2,76.95 L382.7,76.32 L383.2,75.2 L383.7,74.27 L384.2,73.1 L384.7,72.79 L385.2,73.75 L385.7,74.2 L386.2,74.91 L386.7,75.13 L387.2,75.15 L387.7,74.89 L388.2,73.74 L388.7,74.01 L389.2,74.01 L389.7,73.96 L390.2,72.84 L390.7,71.82 L391.2,71.35 L391.7,71.1 L392.2,71.18 L392.7,71 L393.2,70.97 L393.7,70.38 L394.2,70.24 L394.7,70.11 L395.2,69.64 L395.7,70.2 L396.2,70.12 L396.7,70.27 L397.2,69.63 L397.7,69.03 L398.2,68.67 L398.7,68.72 L399.2,69.47 L399.7,70.03 L400.2,70.32 L400.7,70.46 L401.2,70.37 L401.7,70.81 L402.2,70.41 L402.7,70.46 L403.2,70.53 L403.7,69.91 L404.2,69.93 L404.7,70.37 L405.2,69.56 L405.7,69.48 L406.2,69.47 L406.7,69.21 L407.2,69.49 L407.7,69.64 L408.2,69.32 L408.7,69.84 L409.2,70.22 L409.7,70.63 L410.2,71.13 L410.7,71.2 L411.2,71.18 L411.7,70.7 L412.2,70.92 L412.7,70.72 L413.2,70.62 L413.7,70.31 L414.2,70.15 L414.7,70.17 L415.2,70.69 L415.7,70.09 L416.2,69.77 L416.7,70.02 L417.2,70.58 L417.7,70.75 L418.2,70.17 L418.7,69.53 L419.2,69.87 L419.7,69.83 L420.2,69.68 L420.7,70.17 L421.2,70.6 L421.7,70.82 L422.2,71.3 L422.7,71.62 L423.2,71.94 L423.7,71.9 L424.2,71.81 L424.7,71.74 L425.2,71.07 L425.7,71.32 L426.2,71.42 L426.7,71.36 L427.2,70.6 L427.7,70.36 L428.2,70.55 L428.7,69.95 L429.2,69.95 L429.7,70.26 L430.2,69.87 L430.7,70.34 L431.2,70.42 L431.7,70.28 L432.2,70.29 L432.7,70.38 L433.2,70.3 L433.7,70.51 L434.2,70.18 L434.7,69.97 L435.2,70.2 L435.7,70.09 L436.2,69.76 L436.7,69.98 L437.2,70.27 L437.7,69.98 L438.2,69.48 L438.7,69.41 L439.2,69.33 L439.7,69.22 L440.2,69.57 L440.7,69.2 L441.2,69.49 L441.7,69.05 L442.2,68.81 L442.7,68.98 L443.2,69.24 L443.7,69.36 L444.2,69.31 L444.7,69.21 L445.2,69.12 L445.7,69.15 L446.2,68.98 L446.7,68.94 L447.2,68.98 L447.7,68.86 L448.2,68.95 L448.7,68.96 L449.2,69.33 L449.7,69.18 L450.2,68.86 L450.7,68.6 L451.2,68.48 L451.7,68.62 L452.2,68.4 L452.7,68.39 L453.2,68.76 L453.7,67.9 L454.2,67.58 L454.7,67.67 L455.2,67.76 L455.7,67.79 L456.2,67.63 L456.7,67.78 L457.2,67.79 L457.7,67.58 L458.2,68.16 L458.7,68.08 L459.2,67.77 L459.7,67.64 L460.2,67.48 L460.7,67.39 L461.2,66.63 L461.7,66.59 L462.2,66.92 L462.7,66.62 L463.2,66.66 L463.7,66.94 L464.2,67.12 L464.7,67.43 L465.2,66.84 L465.7,66.71 L466.2,66.6 L466.7,66.76 L467.2,66.99 L467.7,66.2 L468.2,66.53 L468.7,66.14 L469.2,66.36 L469.7,65.97 L470.2,66.08 L470.7,66.41 L471.2,66.33 L471.7,66.34 L472.2,66.5 L472.7,66.45 L473.2,66.34 L473.7,66.66 L474.2,66.78 L474.7,66.55 L475.2,67.13 L475.7,66.6 L476.2,66.7 L476.7,66.48 L477.2,66.4 L477.7,66.47 L478.2,66.4 L478.7,66.45 L479.2,65.94 L479.7,65.53 L480.2,65.73 L480.7,65.49 L481.2,65.28 L481.7,64.99 L482.2,65.45 L482.7,65.69 L483.2,66.05 L483.7,65.73 L484.2,65.71 L484.7,65.4 L485.2,65.64 L485.7,66.03 L486.2,65.71 L486.7,66.08 L487.2,66.22 L487.7,66.04 L488.2,65.44 L488.7,65.81 L489.2,65.72 L489.7,65.52 L490.2,65.61 L490.7,65.68 L491.2,66.01 L491.7,65.63 L492.2,65.87 L492.7,66.15 L493.2,66.36 L493.7,66.11 L494.2,65.4" fill="none" stroke="#ff0000" stroke-width="1.9" stroke-linejoin="round" />
<path d="M379.6,142 L380,88 L380.5,138 L381,100 L381.6,118 L382.3,96 L383,91.63 L383.5,94.4 L384,98.13 L384.5,101.79 L385,101.51 L385.5,99.99 L386,98.86 L386.5,97.22 L387,95.22 L387.5,96.16 L388,98.45 L388.5,99.91 L389,100.86 L389.5,100.09 L390,99.56 L390.5,98.61 L391,98.24 L391.5,98.94 L392,97.31 L392.5,97.81 L393,97.17 L393.5,97.61 L394,97.87 L394.5,99.99 L395,101.46 L395.5,102.63 L396,102.79 L396.5,102.14 L397,102.43 L397.5,103.12 L398,103.52 L398.5,104.4 L399,104.43 L399.5,105.68 L400,105.47 L400.5,106.08 L401,105.32 L401.5,104.32 L402,103.03 L402.5,103.19 L403,103.41 L403.5,102.98 L404,102.74 L404.5,102.08 L405,101.81 L405.5,101.96 L406,101.22 L406.5,101.23 L407,101.94 L407.5,102.63 L408,103.81 L408.5,104.57 L409,104.98 L409.5,105.1 L410,103.97 L410.5,104.39 L411,104.26 L411.5,104.94 L412,105.21 L412.5,105.45 L413,105.6 L413.5,105.92 L414,105.36 L414.5,105.18 L415,106.5 L415.5,107.14 L416,107.25 L416.5,107.43 L417,107.6 L417.5,109.57 L418,109.83 L418.5,110 L419,109.89 L419.5,109.06 L420,109.68 L420.5,110.86 L421,111.66 L421.5,112.06 L422,111.52 L422.5,110.81 L423,110.8 L423.5,110.54 L424,109.97 L424.5,110.78 L425,110.2 L425.5,109.95 L426,108.91 L426.5,109.9 L427,109.84 L427.5,109.81 L428,109.93 L428.5,109.52 L429,109.24 L429.5,109.36 L430,108.94 L430.5,109.08 L431,109.55 L431.5,109.69 L432,110.06 L432.5,110.17 L433,110.52 L433.5,110.17 L434,109.94 L434.5,109.08 L435,108.76 L435.5,108.26 L436,108.11 L436.5,107.56 L437,107.67 L437.5,108.65 L438,108.02 L438.5,108.04 L439,108.06 L439.5,107.49 L440,107.18 L440.5,106.82 L441,106.9 L441.5,106.5 L442,107.47 L442.5,107.57 L443,107.75 L443.5,108.29 L444,108.39 L444.5,107.86 L445,107.62 L445.5,107.28 L446,107.09 L446.5,107.2 L447,106.11 L447.5,105.37 L448,105.4 L448.5,105.74 L449,105.65 L449.5,105.71 L450,106.28 L450.5,106.57 L451,106.51 L451.5,106.38 L452,105.85 L452.5,106.14 L453,106.21 L453.5,105.86 L454,106.13 L454.5,106.02 L455,105.93 L455.5,105.36 L456,105.88 L456.5,105.65 L457,105.88 L457.5,106.03 L458,105.81 L458.5,105.8 L459,105.72 L459.5,105.63 L460,105.72 L460.5,105.46 L461,105.75 L461.5,105.75 L462,105.25 L462.5,105.43 L463,105.26 L463.5,105.48 L464,104.6 L464.5,104.89 L465,104.15 L465.5,104.23 L466,105.65 L466.5,105.83 L467,106.11 L467.5,105.68 L468,105.17 L468.5,105.12 L469,105.25 L469.5,105.15 L470,104.85 L470.5,104.53 L471,104.44 L471.5,105.11 L472,105.04 L472.5,104.83 L473,104.7 L473.5,104.35 L474,103.93 L474.5,104.15 L475,104.77 L475.5,104.95 L476,104.39 L476.5,105.01 L477,105.05 L477.5,105.67 L478,105.42 L478.5,104.76 L479,104.8 L479.5,104.68 L480,104.23 L480.5,103.99 L481,103.92 L481.5,103.67 L482,104.03 L482.5,104.19 L483,104.02 L483.5,103.92 L484,104.29 L484.5,104.4 L485,103.9 L485.5,104.02 L486,104.65 L486.5,104.64 L487,104.2 L487.5,104.72 L488,105.48 L488.5,105.23 L489,104.13 L489.5,103.55 L490,104.31 L490.5,104.17 L491,104.37 L491.5,104.47 L492,104.41 L492.5,104.92 L493,104.78 L493.5,104.81 L494,104.73 L494.2,103.8" fill="none" stroke="#0000ff" stroke-width="1.9" stroke-linejoin="round" />
</g>
<text x="379.2" y="172.2" font-size="12" text-anchor="middle" >0</text>
<text x="416.98" y="172.2" font-size="12" text-anchor="middle" >200</text>
<text x="454.76" y="172.2" font-size="12" text-anchor="middle" >400</text>
<text x="492.54" y="172.2" font-size="12" text-anchor="middle" >600</text>
<text x="374.8" y="61.05" font-size="12" text-anchor="end" >1.0</text>
<text x="374.8" y="93.55" font-size="12" text-anchor="end" >0.5</text>
<text x="374.8" y="126.05" font-size="12" text-anchor="end" >0.0</text>
<text x="374.8" y="158.55" font-size="12" text-anchor="end" >-0.5</text>
<text x="436.7" y="189" font-size="13.3" text-anchor="middle" >Photons</text>
<text transform="translate(348.6,97.4) rotate(-90)" font-size="13.3" text-anchor="middle">Polarization Contrast</text>
<text x="386" y="54.4" font-size="12" text-anchor="start" >(c)</text>
<text x="403" y="54.4" font-size="12" text-anchor="start"><tspan font-style="italic" font-size="10.32" textLength="4.8" lengthAdjust="spacingAndGlyphs">θ</tspan><tspan font-size="9.6" dy="5.64" dx="0.9">qwp</tspan><tspan dy="-5.64" dx="0.9">= 45°</tspan></text>
<line x1="391.3" y1="9.0" x2="415.2" y2="9.0" stroke="#ff0000" stroke-width="1.8"/>
<text x="417.6" y="12.9" font-size="11" text-anchor="start" >T= 0 fs</text>
<line x1="391.3" y1="23.1" x2="415.2" y2="23.1" stroke="#0000ff" stroke-width="1.8"/>
<text x="417.6" y="27" font-size="11" text-anchor="start" >T= 500 fs</text>
<rect x="550.7" y="39.9" width="115" height="115" fill="none" stroke="#262626" stroke-width="1.85"/>
<line x1="550.7" y1="154.9" x2="550.7" y2="153.2" stroke="#262626" stroke-width="1.2"/>
<line x1="550.7" y1="39.9" x2="550.7" y2="41.6" stroke="#262626" stroke-width="1.2"/>
<line x1="591" y1="154.9" x2="591" y2="153.2" stroke="#262626" stroke-width="1.2"/>
<line x1="591" y1="39.9" x2="591" y2="41.6" stroke="#262626" stroke-width="1.2"/>
<line x1="631.3" y1="154.9" x2="631.3" y2="153.2" stroke="#262626" stroke-width="1.2"/>
<line x1="631.3" y1="39.9" x2="631.3" y2="41.6" stroke="#262626" stroke-width="1.2"/>
<line x1="550.7" y1="154.9" x2="552.4" y2="154.9" stroke="#262626" stroke-width="1.2"/>
<line x1="665.7" y1="154.9" x2="664" y2="154.9" stroke="#262626" stroke-width="1.2"/>
<line x1="550.7" y1="117.2" x2="552.4" y2="117.2" stroke="#262626" stroke-width="1.2"/>
<line x1="665.7" y1="117.2" x2="664" y2="117.2" stroke="#262626" stroke-width="1.2"/>
<line x1="550.7" y1="79.5" x2="552.4" y2="79.5" stroke="#262626" stroke-width="1.2"/>
<line x1="665.7" y1="79.5" x2="664" y2="79.5" stroke="#262626" stroke-width="1.2"/>
<line x1="550.7" y1="41.8" x2="552.4" y2="41.8" stroke="#262626" stroke-width="1.2"/>
<line x1="665.7" y1="41.8" x2="664" y2="41.8" stroke="#262626" stroke-width="1.2"/>
<g clip-path="url(#ct3)">
<path d="M551,153.62 L551.7,149.67 L552.4,145.92 L553.1,140.97 L553.8,135.82 L554.5,131.97 L555.2,128.36 L555.9,125.07 L556.6,120.39 L557.3,116.12 L558,113.6 L558.7,110.52 L559.4,108.54 L560.1,105.95 L560.8,102.5 L561.5,99.18 L562.2,98.51 L562.9,96.04 L563.6,93.63 L564.3,91.35 L565,90.29 L565.7,89.2 L566.4,87.65 L567.1,86.39 L567.8,85.32 L568.5,84.59 L569.2,84.13 L569.9,82.81 L570.6,80.97 L571.3,82.67 L572,82.5 L572.7,83.65 L573.4,82.29 L574.1,82.05 L574.8,81.01 L575.5,80.77 L576.2,83.09 L576.9,82.72 L577.6,83.34 L578.3,82.35 L579,82.7 L579.7,82.43 L580.4,81.38 L581.1,80.73 L581.8,79.75 L582.5,77.93 L583.2,77.57 L583.9,75.86 L584.6,76.02 L585.3,73.85 L586,72.84 L586.7,71.19 L587.4,70.92 L588.1,69.42 L588.8,69.39 L589.5,68.28 L590.2,68.79 L590.9,69.12 L591.6,69.1 L592.3,68.57 L593,69.5 L593.7,69.29 L594.4,69.86 L595.1,68.62 L595.8,68.4 L596.5,67.86 L597.2,67.05 L597.9,66.24 L598.6,65.46 L599.3,64.17 L600,62.87 L600.7,62.29 L601.4,62.4 L602.1,62.88 L602.8,62.53 L603.5,62.13 L604.2,61.63 L604.9,61.25 L605.6,60.54 L606.3,60.75 L607,62.06 L607.7,61.54 L608.4,61.15 L609.1,62.22 L609.8,60.89 L610.5,60.25 L611.2,59.42 L611.9,57.27 L612.6,59.27 L613.3,60.09 L614,59.53 L614.7,59.78 L615.4,59.61 L616.1,58.91 L616.8,58.59 L617.5,58.2 L618.2,58.22 L618.9,57.67 L619.6,56.58 L620.3,56.58 L621,54.78 L621.7,54.54 L622.4,54.35 L623.1,53.24 L623.8,51.45 L624.5,50.9 L625.2,51.28 L625.9,51.61 L626.6,52.42 L627.3,50.96 L628,50.7 L628.7,50.89 L629.4,50.32 L630.1,48.26 L630.8,49.21 L631.5,50.74 L632.2,50.61 L632.9,49.04 L633.6,48.34 L634.3,48.27 L635,49.74 L635.7,49.1 L636.4,48.21 L637.1,48.58 L637.8,47.48 L638.5,48.08 L639.2,46.46 L639.9,45.51 L640.6,45.65 L641.3,46.14 L642,45.93 L642.7,45.5 L643.4,43.66 L644.1,43.29 L644.8,43.1 L645.5,42.98 L646.2,43.66 L646.9,43.35 L647.6,44.04 L648.3,44.22 L649,44.15 L649.7,44.53 L650.4,45.09 L651.1,45.32 L651.8,44.3 L652.5,43.72 L653.2,42.42 L653.9,43.64 L654.6,44.12 L655.3,43.09 L656,42.12 L656.7,40.85 L657.4,41.06 L658.1,41.11 L658.8,42.46 L659.5,41.78 L660.2,40.53 L660.9,38.48 L661.6,40.02 L662.3,40.25 L663,39.13 L663.7,39.78 L664.4,38.92 L665.1,42.11 L665.8,42.35 L666,40.6" fill="none" stroke="#0000ff" stroke-width="1.9" stroke-linejoin="round" />
<path d="M551,154.46 L551.7,152.08 L552.4,148.47 L553.1,146.75 L553.8,146.54 L554.5,146.29 L555.2,145.74 L555.9,145.18 L556.6,144.31 L557.3,143.3 L558,141.66 L558.7,140.34 L559.4,138.92 L560.1,138.06 L560.8,137.26 L561.5,135.88 L562.2,135.61 L562.9,134.85 L563.6,134.61 L564.3,134.34 L565,133.5 L565.7,131.73 L566.4,131.42 L567.1,130.02 L567.8,130.22 L568.5,129.12 L569.2,128.38 L569.9,128.81 L570.6,128.14 L571.3,128.65 L572,128.63 L572.7,129 L573.4,128.54 L574.1,128.64 L574.8,128.1 L575.5,127.86 L576.2,127.66 L576.9,126.36 L577.6,126.73 L578.3,126.19 L579,125.13 L579.7,124.78 L580.4,125.09 L581.1,125.2 L581.8,124.41 L582.5,124.12 L583.2,123.84 L583.9,123.87 L584.6,123.24 L585.3,123.18 L586,122.2 L586.7,121.54 L587.4,122.21 L588.1,122.83 L588.8,123.02 L589.5,123.55 L590.2,123.66 L590.9,123.62 L591.6,123.66 L592.3,123.31 L593,123.13 L593.7,122.4 L594.4,121.8 L595.1,120.63 L595.8,121.06 L596.5,121.08 L597.2,121.24 L597.9,120.24 L598.6,120.17 L599.3,120.02 L600,119.34 L600.7,120.02 L601.4,120.85 L602.1,120.36 L602.8,120.88 L603.5,121.82 L604.2,121.09 L604.9,121.35 L605.6,121.69 L606.3,121.93 L607,120.62 L607.7,119.88 L608.4,119.96 L609.1,120.41 L609.8,119.58 L610.5,119.26 L611.2,118.87 L611.9,119.55 L612.6,119.2 L613.3,119.43 L614,119.25 L614.7,119.19 L615.4,118.67 L616.1,118.16 L616.8,118.04 L617.5,117.5 L618.2,116.27 L618.9,115.67 L619.6,115.77 L620.3,115.33 L621,114.69 L621.7,114.39 L622.4,115.37 L623.1,114.34 L623.8,113.78 L624.5,113.27 L625.2,112.48 L625.9,112.55 L626.6,112.51 L627.3,112.23 L628,111.25 L628.7,111.73 L629.4,111.75 L630.1,111.34 L630.8,109.91 L631.5,110.13 L632.2,109.71 L632.9,109.82 L633.6,109.71 L634.3,109.45 L635,110.03 L635.7,109.8 L636.4,110.03 L637.1,109.11 L637.8,108.78 L638.5,109.14 L639.2,108.8 L639.9,108.03 L640.6,107.38 L641.3,107.01 L642,106.9 L642.7,107.05 L643.4,106.8 L644.1,106.8 L644.8,106.79 L645.5,106.41 L646.2,106.61 L646.9,106.42 L647.6,105.84 L648.3,105.42 L649,105.15 L649.7,104.61 L650.4,103.95 L651.1,104.07 L651.8,103.83 L652.5,104.08 L653.2,103.65 L653.9,103.56 L654.6,103.38 L655.3,102.86 L656,102.7 L656.7,102.09 L657.4,101.72 L658.1,101.9 L658.8,101.71 L659.5,101.29 L660.2,100.76 L660.9,101.17 L661.6,101.97 L662.3,100.65 L663,101.25 L663.7,101.25 L664.4,101.63 L665.1,101.89 L665.8,101.1 L666,100.9" fill="none" stroke="#ff0000" stroke-width="1.9" stroke-linejoin="round" />
</g>
<text x="550.7" y="172.2" font-size="12" text-anchor="middle" >0</text>
<text x="591" y="172.2" font-size="12" text-anchor="middle" >500</text>
<text x="631.3" y="172.2" font-size="12" text-anchor="middle" >1000</text>
<text x="546.3" y="160.15" font-size="12" text-anchor="end" >0</text>
<text x="546.3" y="122.45" font-size="12" text-anchor="end" >10</text>
<text x="546.3" y="84.75" font-size="12" text-anchor="end" >20</text>
<text x="546.3" y="47.05" font-size="12" text-anchor="end" >30</text>
<text x="608.2" y="189" font-size="13.3" text-anchor="middle" >Photons</text>
<text transform="translate(527.3,97.4) rotate(-90)" font-size="13.3" text-anchor="middle">Resolution</text>
<text x="556.5" y="56.2" font-size="11.3" text-anchor="start" >(d)</text>
<line x1="566.1" y1="6.2" x2="589.9" y2="6.2" stroke="#0000ff" stroke-width="1.8"/>
<text x="592" y="8.7" font-size="11.1" text-anchor="start"><tspan font-style="italic" font-size="9.55" textLength="4.44" lengthAdjust="spacingAndGlyphs">θ</tspan><tspan font-size="8.88" dy="5.22" dx="0.9">qwp</tspan><tspan dy="-5.22" dx="0.9">= 0°</tspan></text>
<line x1="566.1" y1="25.5" x2="589.9" y2="25.5" stroke="#ff0000" stroke-width="1.8"/>
<text x="592" y="28" font-size="11.1" text-anchor="start"><tspan font-style="italic" font-size="9.55" textLength="4.44" lengthAdjust="spacingAndGlyphs">θ</tspan><tspan font-size="8.88" dy="5.22" dx="0.9">qwp</tspan><tspan dy="-5.22" dx="0.9">= 45°</tspan></text>
<rect x="36.1" y="219.4" width="115.6" height="12.0" fill="url(#cb)" stroke="#3a3a3a" stroke-opacity="0.55" stroke-width="0.5"/>
<text x="35.9" y="214.2" font-size="11.1" text-anchor="middle" >1</text>
<text x="93.5" y="214.2" font-size="11.1" text-anchor="middle" >490</text>
<text x="150.5" y="214.2" font-size="11.1" text-anchor="middle" >970</text>
<line x1="54.19" y1="236.5" x2="54.19" y2="351.5" stroke="#cecece" stroke-width="1"/>
<line x1="71.88" y1="236.5" x2="71.88" y2="351.5" stroke="#cecece" stroke-width="1"/>
<line x1="89.58" y1="236.5" x2="89.58" y2="351.5" stroke="#cecece" stroke-width="1"/>
<line x1="107.27" y1="236.5" x2="107.27" y2="351.5" stroke="#cecece" stroke-width="1"/>
<line x1="124.96" y1="236.5" x2="124.96" y2="351.5" stroke="#cecece" stroke-width="1"/>
<line x1="142.65" y1="236.5" x2="142.65" y2="351.5" stroke="#cecece" stroke-width="1"/>
<line x1="36.5" y1="333.81" x2="151.5" y2="333.81" stroke="#cecece" stroke-width="1"/>
<line x1="36.5" y1="316.12" x2="151.5" y2="316.12" stroke="#cecece" stroke-width="1"/>
<line x1="36.5" y1="298.42" x2="151.5" y2="298.42" stroke="#cecece" stroke-width="1"/>
<line x1="36.5" y1="280.73" x2="151.5" y2="280.73" stroke="#cecece" stroke-width="1"/>
<line x1="36.5" y1="263.04" x2="151.5" y2="263.04" stroke="#cecece" stroke-width="1"/>
<line x1="36.5" y1="245.35" x2="151.5" y2="245.35" stroke="#cecece" stroke-width="1"/>
<rect x="36.5" y="236.5" width="115" height="115" fill="none" stroke="#262626" stroke-width="1.85"/>
<line x1="36.5" y1="351.5" x2="36.5" y2="349.8" stroke="#262626" stroke-width="1.2"/>
<line x1="36.5" y1="236.5" x2="36.5" y2="238.2" stroke="#262626" stroke-width="1.2"/>
<line x1="54.19" y1="351.5" x2="54.19" y2="349.8" stroke="#262626" stroke-width="1.2"/>
<line x1="54.19" y1="236.5" x2="54.19" y2="238.2" stroke="#262626" stroke-width="1.2"/>
<line x1="71.88" y1="351.5" x2="71.88" y2="349.8" stroke="#262626" stroke-width="1.2"/>
<line x1="71.88" y1="236.5" x2="71.88" y2="238.2" stroke="#262626" stroke-width="1.2"/>
<line x1="89.58" y1="351.5" x2="89.58" y2="349.8" stroke="#262626" stroke-width="1.2"/>
<line x1="89.58" y1="236.5" x2="89.58" y2="238.2" stroke="#262626" stroke-width="1.2"/>
<line x1="107.27" y1="351.5" x2="107.27" y2="349.8" stroke="#262626" stroke-width="1.2"/>
<line x1="107.27" y1="236.5" x2="107.27" y2="238.2" stroke="#262626" stroke-width="1.2"/>
<line x1="124.96" y1="351.5" x2="124.96" y2="349.8" stroke="#262626" stroke-width="1.2"/>
<line x1="124.96" y1="236.5" x2="124.96" y2="238.2" stroke="#262626" stroke-width="1.2"/>
<line x1="142.65" y1="351.5" x2="142.65" y2="349.8" stroke="#262626" stroke-width="1.2"/>
<line x1="142.65" y1="236.5" x2="142.65" y2="238.2" stroke="#262626" stroke-width="1.2"/>
<line x1="36.5" y1="351.5" x2="38.2" y2="351.5" stroke="#262626" stroke-width="1.2"/>
<line x1="151.5" y1="351.5" x2="149.8" y2="351.5" stroke="#262626" stroke-width="1.2"/>
<line x1="36.5" y1="333.81" x2="38.2" y2="333.81" stroke="#262626" stroke-width="1.2"/>
<line x1="151.5" y1="333.81" x2="149.8" y2="333.81" stroke="#262626" stroke-width="1.2"/>
<line x1="36.5" y1="316.12" x2="38.2" y2="316.12" stroke="#262626" stroke-width="1.2"/>
<line x1="151.5" y1="316.12" x2="149.8" y2="316.12" stroke="#262626" stroke-width="1.2"/>
<line x1="36.5" y1="298.42" x2="38.2" y2="298.42" stroke="#262626" stroke-width="1.2"/>
<line x1="151.5" y1="298.42" x2="149.8" y2="298.42" stroke="#262626" stroke-width="1.2"/>
<line x1="36.5" y1="280.73" x2="38.2" y2="280.73" stroke="#262626" stroke-width="1.2"/>
<line x1="151.5" y1="280.73" x2="149.8" y2="280.73" stroke="#262626" stroke-width="1.2"/>
<line x1="36.5" y1="263.04" x2="38.2" y2="263.04" stroke="#262626" stroke-width="1.2"/>
<line x1="151.5" y1="263.04" x2="149.8" y2="263.04" stroke="#262626" stroke-width="1.2"/>
<line x1="36.5" y1="245.35" x2="38.2" y2="245.35" stroke="#262626" stroke-width="1.2"/>
<line x1="151.5" y1="245.35" x2="149.8" y2="245.35" stroke="#262626" stroke-width="1.2"/>
<g fill="none" stroke-width="1">
<circle cx="36.85" cy="297.18" r="1.5" stroke="#0080ff"/>
<circle cx="37.21" cy="338.05" r="1.5" stroke="#0080ff"/>
<circle cx="37.56" cy="340.88" r="1.5" stroke="#0080ff"/>
<circle cx="54.19" cy="320.36" r="1.5" stroke="#0080ff"/>
<circle cx="72.24" cy="316.12" r="1.5" stroke="#0080ff"/>
<circle cx="87.98" cy="333.45" r="1.5" stroke="#0080ff"/>
<circle cx="90.46" cy="334.87" r="1.5" stroke="#0080ff"/>
<circle cx="87.28" cy="350.79" r="1.5" stroke="#0080ff"/>
<circle cx="90.46" cy="349.73" r="1.5" stroke="#0080ff"/>
<circle cx="89.58" cy="350.97" r="1.5" stroke="#0080ff"/>
<circle cx="88.69" cy="350.08" r="1.5" stroke="#0080ff"/>
<circle cx="61.27" cy="350.79" r="1.5" stroke="#0080ff"/>
<circle cx="64.28" cy="351.85" r="1.5" stroke="#0080ff"/>
<circle cx="38.09" cy="317.35" r="1.5" stroke="#0080ff"/>
<circle cx="36.34" cy="333.91" r="1.5" stroke="#007dfa"/>
<circle cx="36.46" cy="333.4" r="1.5" stroke="#007dfa"/>
<circle cx="36.43" cy="333.01" r="1.5" stroke="#007dfa"/>
<circle cx="36.63" cy="333.16" r="1.5" stroke="#007dfa"/>
<circle cx="35.93" cy="333.05" r="1.5" stroke="#007dfa"/>
<circle cx="36.36" cy="334.93" r="1.5" stroke="#007dfa"/>
<circle cx="36.66" cy="335.06" r="1.5" stroke="#007dfa"/>
<circle cx="36.34" cy="333.18" r="1.5" stroke="#007dfa"/>
<circle cx="36.84" cy="333" r="1.5" stroke="#007dfa"/>
<circle cx="36.13" cy="333.21" r="1.5" stroke="#007dfa"/>
<circle cx="36.19" cy="334.94" r="1.5" stroke="#007dfa"/>
<circle cx="37.29" cy="333.96" r="1.5" stroke="#007dfa"/>
<circle cx="35.83" cy="333.28" r="1.5" stroke="#007dfa"/>
<circle cx="36.73" cy="334.14" r="1.5" stroke="#007dfa"/>
<circle cx="37.07" cy="334.64" r="1.5" stroke="#007dfa"/>
<circle cx="36.26" cy="334.26" r="1.5" stroke="#007dfa"/>
<circle cx="36.41" cy="334.4" r="1.5" stroke="#007dfa"/>
<circle cx="35.74" cy="334.11" r="1.5" stroke="#007dfa"/>
<circle cx="36.26" cy="334.59" r="1.5" stroke="#007dfa"/>
<circle cx="36.83" cy="333.83" r="1.5" stroke="#007dfa"/>
<circle cx="35.98" cy="333.5" r="1.5" stroke="#007dfa"/>
<circle cx="36.41" cy="333.06" r="1.5" stroke="#007dfa"/>
<circle cx="35.96" cy="334.7" r="1.5" stroke="#007dfa"/>
<circle cx="36.58" cy="333.21" r="1.5" stroke="#007dfa"/>
<circle cx="36.7" cy="334.15" r="1.5" stroke="#007dfa"/>
<circle cx="35.92" cy="334.03" r="1.5" stroke="#007dfa"/>
<circle cx="36.64" cy="332.8" r="1.5" stroke="#007dfa"/>
<circle cx="36.18" cy="334.75" r="1.5" stroke="#007dfa"/>
<circle cx="36.63" cy="333.09" r="1.5" stroke="#007dfa"/>
<circle cx="36.33" cy="333.7" r="1.5" stroke="#007dfa"/>
<circle cx="36.83" cy="316.76" r="1.5" stroke="#007dfa"/>
<circle cx="36.41" cy="315.25" r="1.5" stroke="#007dfa"/>
<circle cx="35.84" cy="316.34" r="1.5" stroke="#007dfa"/>
<circle cx="35.85" cy="316.24" r="1.5" stroke="#007dfa"/>
<circle cx="36.91" cy="316.27" r="1.5" stroke="#007dfa"/>
<circle cx="36.88" cy="315.9" r="1.5" stroke="#007dfa"/>
<circle cx="37.03" cy="316.73" r="1.5" stroke="#007dfa"/>
<circle cx="36.15" cy="316.54" r="1.5" stroke="#007dfa"/>
<circle cx="36.95" cy="315.84" r="1.5" stroke="#007dfa"/>
<circle cx="36.51" cy="316.2" r="1.5" stroke="#007dfa"/>
<circle cx="35.9" cy="316.35" r="1.5" stroke="#007dfa"/>
<circle cx="35.78" cy="316.08" r="1.5" stroke="#007dfa"/>
<circle cx="36.52" cy="315.58" r="1.5" stroke="#007dfa"/>
<circle cx="37.06" cy="316.27" r="1.5" stroke="#007dfa"/>
<circle cx="35.75" cy="316.16" r="1.5" stroke="#007dfa"/>
<circle cx="36.8" cy="315.29" r="1.5" stroke="#007dfa"/>
<circle cx="36.63" cy="315.63" r="1.5" stroke="#007dfa"/>
<circle cx="36.06" cy="316.8" r="1.5" stroke="#007dfa"/>
<circle cx="35.89" cy="315.76" r="1.5" stroke="#007dfa"/>
<circle cx="36.19" cy="316.8" r="1.5" stroke="#007dfa"/>
<circle cx="36.81" cy="316.9" r="1.5" stroke="#007dfa"/>
<circle cx="36.25" cy="316.59" r="1.5" stroke="#007dfa"/>
<circle cx="36.69" cy="316.9" r="1.5" stroke="#007dfa"/>
<circle cx="36.84" cy="315.36" r="1.5" stroke="#007dfa"/>
<circle cx="36.2" cy="315.58" r="1.5" stroke="#007dfa"/>
<circle cx="53.64" cy="314.76" r="1.5" stroke="#007dfa"/>
<circle cx="54.1" cy="315.55" r="1.5" stroke="#007dfa"/>
<circle cx="53.77" cy="314.48" r="1.5" stroke="#007dfa"/>
<circle cx="53.63" cy="315.4" r="1.5" stroke="#007dfa"/>
<circle cx="53.62" cy="314.93" r="1.5" stroke="#007dfa"/>
<circle cx="53.67" cy="316.05" r="1.5" stroke="#007dfa"/>
<circle cx="54.38" cy="314.43" r="1.5" stroke="#007dfa"/>
<circle cx="54.84" cy="314.71" r="1.5" stroke="#007dfa"/>
<circle cx="54.29" cy="315.88" r="1.5" stroke="#007dfa"/>
<circle cx="54.32" cy="314.87" r="1.5" stroke="#007dfa"/>
<circle cx="54.66" cy="316.01" r="1.5" stroke="#007dfa"/>
<circle cx="54.29" cy="315.44" r="1.5" stroke="#007dfa"/>
<circle cx="53.85" cy="315.15" r="1.5" stroke="#007dfa"/>
<circle cx="54.57" cy="316.35" r="1.5" stroke="#007dfa"/>
<circle cx="54.07" cy="315.84" r="1.5" stroke="#007dfa"/>
<circle cx="53.58" cy="315.38" r="1.5" stroke="#007dfa"/>
<circle cx="54.53" cy="315.72" r="1.5" stroke="#007dfa"/>
<circle cx="54.12" cy="316.07" r="1.5" stroke="#007dfa"/>
<circle cx="53.88" cy="315.1" r="1.5" stroke="#007dfa"/>
<circle cx="53.93" cy="316.09" r="1.5" stroke="#007dfa"/>
<circle cx="54.13" cy="315.83" r="1.5" stroke="#007dfa"/>
<circle cx="54.27" cy="315.79" r="1.5" stroke="#007dfa"/>
<circle cx="54.58" cy="315.8" r="1.5" stroke="#007dfa"/>
<circle cx="53.45" cy="315.69" r="1.5" stroke="#007dfa"/>
<circle cx="54.28" cy="313.94" r="1.5" stroke="#007dfa"/>
<circle cx="54.63" cy="313.91" r="1.5" stroke="#007dfa"/>
<circle cx="54.82" cy="316.7" r="1.5" stroke="#007dfa"/>
<circle cx="54.55" cy="316.94" r="1.5" stroke="#007dfa"/>
<circle cx="71.61" cy="333.75" r="1.5" stroke="#007dfa"/>
<circle cx="71.84" cy="333.75" r="1.5" stroke="#007dfa"/>
<circle cx="71.96" cy="333.95" r="1.5" stroke="#007dfa"/>
<circle cx="72.03" cy="333.46" r="1.5" stroke="#007dfa"/>
<circle cx="53.7" cy="333.87" r="1.5" stroke="#007cf7"/>
<circle cx="53.9" cy="333.54" r="1.5" stroke="#007cf7"/>
<circle cx="54.74" cy="334.23" r="1.5" stroke="#007cf7"/>
<circle cx="53.19" cy="333.98" r="1.5" stroke="#007cf7"/>
<circle cx="54.01" cy="333.52" r="1.5" stroke="#007cf7"/>
<circle cx="54.63" cy="333.25" r="1.5" stroke="#007cf7"/>
<circle cx="54.24" cy="333" r="1.5" stroke="#007cf7"/>
<circle cx="54.49" cy="334.85" r="1.5" stroke="#007cf7"/>
<circle cx="54.85" cy="333.49" r="1.5" stroke="#007cf7"/>
<circle cx="55.38" cy="333.45" r="1.5" stroke="#007cf7"/>
<circle cx="53.62" cy="333.62" r="1.5" stroke="#007cf7"/>
<circle cx="55.45" cy="333.54" r="1.5" stroke="#007cf7"/>
<circle cx="53.65" cy="333.91" r="1.5" stroke="#007cf7"/>
<circle cx="54.55" cy="334.43" r="1.5" stroke="#007cf7"/>
<circle cx="54.74" cy="334.22" r="1.5" stroke="#007cf7"/>
<circle cx="53.96" cy="333.66" r="1.5" stroke="#007cf7"/>
<circle cx="55.44" cy="333.79" r="1.5" stroke="#007cf7"/>
<circle cx="54.87" cy="333.47" r="1.5" stroke="#007cf7"/>
<circle cx="54.25" cy="333.57" r="1.5" stroke="#007cf7"/>
<circle cx="53.44" cy="332.99" r="1.5" stroke="#007cf7"/>
<circle cx="53.02" cy="334.3" r="1.5" stroke="#007cf7"/>
<circle cx="54.26" cy="334.57" r="1.5" stroke="#007cf7"/>
<circle cx="55.14" cy="334.41" r="1.5" stroke="#007cf7"/>
<circle cx="54.96" cy="334.77" r="1.5" stroke="#007cf7"/>
<circle cx="55.22" cy="333.44" r="1.5" stroke="#007cf7"/>
<circle cx="55.01" cy="334.65" r="1.5" stroke="#007cf7"/>
<circle cx="54.83" cy="333.99" r="1.5" stroke="#007cf7"/>
<circle cx="54.24" cy="334.84" r="1.5" stroke="#007cf7"/>
<circle cx="53.64" cy="334.16" r="1.5" stroke="#007cf7"/>
<circle cx="55.32" cy="333.24" r="1.5" stroke="#007cf7"/>
<circle cx="71.18" cy="351.7" r="1.5" stroke="#0078f0"/>
<circle cx="72.37" cy="352.33" r="1.5" stroke="#0078f0"/>
<circle cx="72.02" cy="351.59" r="1.5" stroke="#0078f0"/>
<circle cx="72.77" cy="351.94" r="1.5" stroke="#0078f0"/>
<circle cx="71.88" cy="350.69" r="1.5" stroke="#0078f0"/>
<circle cx="71.81" cy="351.8" r="1.5" stroke="#0078f0"/>
<circle cx="71.04" cy="351.02" r="1.5" stroke="#0078f0"/>
<circle cx="70.32" cy="351.31" r="1.5" stroke="#0078f0"/>
<circle cx="72.11" cy="350.78" r="1.5" stroke="#0078f0"/>
<circle cx="70.81" cy="351.3" r="1.5" stroke="#0078f0"/>
<circle cx="72.12" cy="351.16" r="1.5" stroke="#0078f0"/>
<circle cx="70.43" cy="351.73" r="1.5" stroke="#0078f0"/>
<circle cx="70.39" cy="351.2" r="1.5" stroke="#0078f0"/>
<circle cx="72.6" cy="351.65" r="1.5" stroke="#0078f0"/>
<circle cx="72.29" cy="351.94" r="1.5" stroke="#0078f0"/>
<circle cx="72.17" cy="351.2" r="1.5" stroke="#0078f0"/>
<circle cx="70.36" cy="351.22" r="1.5" stroke="#0078f0"/>
<circle cx="70.31" cy="351.82" r="1.5" stroke="#0078f0"/>
<circle cx="72.21" cy="351.92" r="1.5" stroke="#0078f0"/>
<circle cx="73.14" cy="351.17" r="1.5" stroke="#0078f0"/>
<circle cx="72.73" cy="351.93" r="1.5" stroke="#0078f0"/>
<circle cx="72.08" cy="350.71" r="1.5" stroke="#0078f0"/>
<circle cx="73.13" cy="351.59" r="1.5" stroke="#0078f0"/>
<circle cx="71.77" cy="352.13" r="1.5" stroke="#0078f0"/>
<circle cx="72.45" cy="351.89" r="1.5" stroke="#0078f0"/>
<circle cx="71.99" cy="351.6" r="1.5" stroke="#0078f0"/>
<circle cx="72.81" cy="352.09" r="1.5" stroke="#0078f0"/>
<circle cx="72.39" cy="351.92" r="1.5" stroke="#0078f0"/>
<circle cx="71.91" cy="350.9" r="1.5" stroke="#0078f0"/>
<circle cx="70.76" cy="351.63" r="1.5" stroke="#0078f0"/>
<circle cx="71.43" cy="352.2" r="1.5" stroke="#0078f0"/>
<circle cx="71.21" cy="351.48" r="1.5" stroke="#0078f0"/>
<circle cx="70.83" cy="352.12" r="1.5" stroke="#0078f0"/>
<circle cx="71.41" cy="351.89" r="1.5" stroke="#0078f0"/>
<circle cx="72.69" cy="351.41" r="1.5" stroke="#0078f0"/>
<circle cx="52.45" cy="351.87" r="1.5" stroke="#0064c7"/>
<circle cx="53.54" cy="352.06" r="1.5" stroke="#0064c7"/>
<circle cx="51.8" cy="352.03" r="1.5" stroke="#0064c7"/>
<circle cx="54.15" cy="352.55" r="1.5" stroke="#0064c7"/>
<circle cx="50.84" cy="351.49" r="1.5" stroke="#0064c7"/>
<circle cx="53.43" cy="351.24" r="1.5" stroke="#0064c7"/>
<circle cx="52" cy="350.8" r="1.5" stroke="#0064c7"/>
<circle cx="52.44" cy="350.88" r="1.5" stroke="#0064c7"/>
<circle cx="52.61" cy="352.38" r="1.5" stroke="#0064c7"/>
<circle cx="56.1" cy="350.79" r="1.5" stroke="#0064c7"/>
<circle cx="54.9" cy="350.6" r="1.5" stroke="#0064c7"/>
<circle cx="52.98" cy="350.77" r="1.5" stroke="#0064c7"/>
<circle cx="54.61" cy="351.21" r="1.5" stroke="#0064c7"/>
<circle cx="55.59" cy="351.54" r="1.5" stroke="#0064c7"/>
<circle cx="53.3" cy="350.45" r="1.5" stroke="#0064c7"/>
<circle cx="53.89" cy="352.57" r="1.5" stroke="#0064c7"/>
<circle cx="55.69" cy="351.18" r="1.5" stroke="#0064c7"/>
<circle cx="56.56" cy="350.97" r="1.5" stroke="#0064c7"/>
<circle cx="54.4" cy="351.67" r="1.5" stroke="#0064c7"/>
<circle cx="55.26" cy="351.03" r="1.5" stroke="#0064c7"/>
<circle cx="53.26" cy="351.11" r="1.5" stroke="#0064c7"/>
<circle cx="56.49" cy="352.02" r="1.5" stroke="#0064c7"/>
<circle cx="52.9" cy="352.1" r="1.5" stroke="#0064c7"/>
<circle cx="54.62" cy="350.94" r="1.5" stroke="#0064c7"/>
<circle cx="53.89" cy="350.61" r="1.5" stroke="#0064c7"/>
<circle cx="51.29" cy="351.75" r="1.5" stroke="#0064c7"/>
<circle cx="55.94" cy="352.24" r="1.5" stroke="#0064c7"/>
<circle cx="52.87" cy="351.92" r="1.5" stroke="#0064c7"/>
<circle cx="54.48" cy="351.45" r="1.5" stroke="#0064c7"/>
<circle cx="55.07" cy="352.36" r="1.5" stroke="#0064c7"/>
<circle cx="55.11" cy="351.52" r="1.5" stroke="#0064c7"/>
<circle cx="56.13" cy="352.04" r="1.5" stroke="#0064c7"/>
<circle cx="53.11" cy="352.55" r="1.5" stroke="#0064c7"/>
<circle cx="53.29" cy="350.49" r="1.5" stroke="#0064c7"/>
<circle cx="54.11" cy="352.05" r="1.5" stroke="#0064c7"/>
<circle cx="55.11" cy="350.62" r="1.5" stroke="#0064c7"/>
<circle cx="55.73" cy="351.78" r="1.5" stroke="#0064c7"/>
<circle cx="56.78" cy="351.45" r="1.5" stroke="#0064c7"/>
<circle cx="52.51" cy="352.09" r="1.5" stroke="#0064c7"/>
<circle cx="54.22" cy="352.32" r="1.5" stroke="#0064c7"/>
<circle cx="51.06" cy="351.91" r="1.5" stroke="#0064c7"/>
<circle cx="51.36" cy="351.48" r="1.5" stroke="#0064c7"/>
<circle cx="54.84" cy="351.79" r="1.5" stroke="#0064c7"/>
<circle cx="54.08" cy="351.15" r="1.5" stroke="#0064c7"/>
<circle cx="53.93" cy="351.27" r="1.5" stroke="#0064c7"/>
<circle cx="54.28" cy="352.25" r="1.5" stroke="#0064c7"/>
<circle cx="55.69" cy="352.05" r="1.5" stroke="#0064c7"/>
<circle cx="55.02" cy="351.39" r="1.5" stroke="#0064c7"/>
<circle cx="53.42" cy="351.39" r="1.5" stroke="#0064c7"/>
<circle cx="55.24" cy="351.03" r="1.5" stroke="#0064c7"/>
<circle cx="52.02" cy="351.39" r="1.5" stroke="#0064c7"/>
<circle cx="54.74" cy="351.56" r="1.5" stroke="#0064c7"/>
<circle cx="56.22" cy="351.44" r="1.5" stroke="#0064c7"/>
<circle cx="52.06" cy="351.81" r="1.5" stroke="#0064c7"/>
<circle cx="53.21" cy="350.46" r="1.5" stroke="#0064c7"/>
<circle cx="53.28" cy="350.64" r="1.5" stroke="#0064c7"/>
<circle cx="54.76" cy="352.39" r="1.5" stroke="#0064c7"/>
<circle cx="51.68" cy="352.24" r="1.5" stroke="#0064c7"/>
<circle cx="55.53" cy="350.93" r="1.5" stroke="#0064c7"/>
<circle cx="53.73" cy="350.78" r="1.5" stroke="#0064c7"/>
<circle cx="35.84" cy="351.36" r="1.5" stroke="#000000"/>
<circle cx="37.71" cy="352.12" r="1.5" stroke="#000000"/>
<circle cx="37.6" cy="351.3" r="1.5" stroke="#000000"/>
<circle cx="37.8" cy="351.6" r="1.5" stroke="#000000"/>
<circle cx="35.64" cy="351.37" r="1.5" stroke="#000000"/>
<circle cx="38.24" cy="351.01" r="1.5" stroke="#000000"/>
<circle cx="36.33" cy="352.3" r="1.5" stroke="#000000"/>
<circle cx="36.01" cy="350.54" r="1.5" stroke="#000000"/>
<circle cx="35.97" cy="351.04" r="1.5" stroke="#000000"/>
<circle cx="37.28" cy="352.89" r="1.5" stroke="#000000"/>
<circle cx="37.07" cy="352.7" r="1.5" stroke="#000000"/>
<circle cx="37.85" cy="350.48" r="1.5" stroke="#000000"/>
<circle cx="37.35" cy="350.37" r="1.5" stroke="#000000"/>
<circle cx="37.72" cy="351.7" r="1.5" stroke="#000000"/>
<circle cx="35.98" cy="352.52" r="1.5" stroke="#000000"/>
<circle cx="38.14" cy="350.71" r="1.5" stroke="#000000"/>
<circle cx="36.74" cy="351.91" r="1.5" stroke="#000000"/>
<circle cx="37.06" cy="352.91" r="1.5" stroke="#000000"/>
<circle cx="37.23" cy="352.15" r="1.5" stroke="#000000"/>
<circle cx="37.72" cy="351.52" r="1.5" stroke="#000000"/>
<circle cx="36.27" cy="351.77" r="1.5" stroke="#000000"/>
<circle cx="36.98" cy="351.03" r="1.5" stroke="#000000"/>
<circle cx="37.96" cy="351.09" r="1.5" stroke="#000000"/>
<circle cx="36.85" cy="352.28" r="1.5" stroke="#000000"/>
<circle cx="37.35" cy="350.76" r="1.5" stroke="#000000"/>
<circle cx="37.54" cy="352.3" r="1.5" stroke="#000000"/>
<circle cx="36.94" cy="351.48" r="1.5" stroke="#000000"/>
<circle cx="37.15" cy="350.44" r="1.5" stroke="#000000"/>
<circle cx="37.43" cy="352.58" r="1.5" stroke="#000000"/>
<circle cx="35.89" cy="352.26" r="1.5" stroke="#000000"/>
<circle cx="37.52" cy="350.36" r="1.5" stroke="#000000"/>
<circle cx="35.55" cy="351.79" r="1.5" stroke="#000000"/>
<circle cx="36.06" cy="350.93" r="1.5" stroke="#000000"/>
<circle cx="37.26" cy="351.95" r="1.5" stroke="#000000"/>
<circle cx="37.65" cy="351.7" r="1.5" stroke="#000000"/>
<circle cx="35.74" cy="350.58" r="1.5" stroke="#000000"/>
<circle cx="36.98" cy="352.16" r="1.5" stroke="#000000"/>
<circle cx="36.03" cy="351.17" r="1.5" stroke="#000000"/>
<circle cx="38.21" cy="351.2" r="1.5" stroke="#000000"/>
<circle cx="37.54" cy="351.86" r="1.5" stroke="#000000"/>
<circle cx="37.38" cy="351.43" r="1.5" stroke="#000000"/>
<circle cx="37.04" cy="352.1" r="1.5" stroke="#000000"/>
<circle cx="35.88" cy="352.4" r="1.5" stroke="#000000"/>
<circle cx="35.99" cy="350.75" r="1.5" stroke="#000000"/>
<circle cx="37.32" cy="350.37" r="1.5" stroke="#000000"/>
</g>
<text x="36.5" y="368.9" font-size="12" text-anchor="middle" >0</text>
<text x="31.8" y="357.1" font-size="12" text-anchor="end" >0</text>
<text x="54.19" y="368.9" font-size="12" text-anchor="middle" >1</text>
<text x="31.8" y="339.41" font-size="12" text-anchor="end" >1</text>
<text x="71.88" y="368.9" font-size="12" text-anchor="middle" >2</text>
<text x="31.8" y="321.72" font-size="12" text-anchor="end" >2</text>
<text x="89.58" y="368.9" font-size="12" text-anchor="middle" >3</text>
<text x="31.8" y="304.02" font-size="12" text-anchor="end" >3</text>
<text x="107.27" y="368.9" font-size="12" text-anchor="middle" >4</text>
<text x="31.8" y="286.33" font-size="12" text-anchor="end" >4</text>
<text x="124.96" y="368.9" font-size="12" text-anchor="middle" >5</text>
<text x="31.8" y="268.64" font-size="12" text-anchor="end" >5</text>
<text x="142.65" y="368.9" font-size="12" text-anchor="middle" >6</text>
<text x="31.8" y="250.95" font-size="12" text-anchor="end" >6</text>
<text x="94" y="385.8" font-size="13.1" text-anchor="middle" >H-Polarized</text>
<text transform="translate(19,294) rotate(-90)" font-size="13.3" text-anchor="middle">V-Polarized</text>
<text x="94.5" y="253.6" font-size="12" text-anchor="start" >(e) T=0 fs</text>
<text x="94" y="270.6" font-size="12" text-anchor="start"><tspan font-style="italic" font-size="10.32" textLength="4.8" lengthAdjust="spacingAndGlyphs">θ</tspan><tspan font-size="9.6" dy="5.64" dx="0.9">qwp</tspan><tspan dy="-5.64" dx="0.9">= 0°</tspan></text>
<rect x="207.5" y="219.4" width="115.6" height="12.0" fill="url(#cb)" stroke="#3a3a3a" stroke-opacity="0.55" stroke-width="0.5"/>
<text x="207.3" y="214.2" font-size="11.1" text-anchor="middle" >1</text>
<text x="264.9" y="214.2" font-size="11.1" text-anchor="middle" >620</text>
<text x="321.9" y="214.2" font-size="11.1" text-anchor="middle" >1230</text>
<line x1="225.59" y1="236.5" x2="225.59" y2="351.5" stroke="#cecece" stroke-width="1"/>
<line x1="243.28" y1="236.5" x2="243.28" y2="351.5" stroke="#cecece" stroke-width="1"/>
<line x1="260.98" y1="236.5" x2="260.98" y2="351.5" stroke="#cecece" stroke-width="1"/>
<line x1="278.67" y1="236.5" x2="278.67" y2="351.5" stroke="#cecece" stroke-width="1"/>
<line x1="296.36" y1="236.5" x2="296.36" y2="351.5" stroke="#cecece" stroke-width="1"/>
<line x1="314.05" y1="236.5" x2="314.05" y2="351.5" stroke="#cecece" stroke-width="1"/>
<line x1="207.9" y1="333.81" x2="322.9" y2="333.81" stroke="#cecece" stroke-width="1"/>
<line x1="207.9" y1="316.12" x2="322.9" y2="316.12" stroke="#cecece" stroke-width="1"/>
<line x1="207.9" y1="298.42" x2="322.9" y2="298.42" stroke="#cecece" stroke-width="1"/>
<line x1="207.9" y1="280.73" x2="322.9" y2="280.73" stroke="#cecece" stroke-width="1"/>
<line x1="207.9" y1="263.04" x2="322.9" y2="263.04" stroke="#cecece" stroke-width="1"/>
<line x1="207.9" y1="245.35" x2="322.9" y2="245.35" stroke="#cecece" stroke-width="1"/>
<rect x="207.9" y="236.5" width="115" height="115" fill="none" stroke="#262626" stroke-width="1.85"/>
<line x1="207.9" y1="351.5" x2="207.9" y2="349.8" stroke="#262626" stroke-width="1.2"/>
<line x1="207.9" y1="236.5" x2="207.9" y2="238.2" stroke="#262626" stroke-width="1.2"/>
<line x1="225.59" y1="351.5" x2="225.59" y2="349.8" stroke="#262626" stroke-width="1.2"/>
<line x1="225.59" y1="236.5" x2="225.59" y2="238.2" stroke="#262626" stroke-width="1.2"/>
<line x1="243.28" y1="351.5" x2="243.28" y2="349.8" stroke="#262626" stroke-width="1.2"/>
<line x1="243.28" y1="236.5" x2="243.28" y2="238.2" stroke="#262626" stroke-width="1.2"/>
<line x1="260.98" y1="351.5" x2="260.98" y2="349.8" stroke="#262626" stroke-width="1.2"/>
<line x1="260.98" y1="236.5" x2="260.98" y2="238.2" stroke="#262626" stroke-width="1.2"/>
<line x1="278.67" y1="351.5" x2="278.67" y2="349.8" stroke="#262626" stroke-width="1.2"/>
<line x1="278.67" y1="236.5" x2="278.67" y2="238.2" stroke="#262626" stroke-width="1.2"/>
<line x1="296.36" y1="351.5" x2="296.36" y2="349.8" stroke="#262626" stroke-width="1.2"/>
<line x1="296.36" y1="236.5" x2="296.36" y2="238.2" stroke="#262626" stroke-width="1.2"/>
<line x1="314.05" y1="351.5" x2="314.05" y2="349.8" stroke="#262626" stroke-width="1.2"/>
<line x1="314.05" y1="236.5" x2="314.05" y2="238.2" stroke="#262626" stroke-width="1.2"/>
<line x1="207.9" y1="351.5" x2="209.6" y2="351.5" stroke="#262626" stroke-width="1.2"/>
<line x1="322.9" y1="351.5" x2="321.2" y2="351.5" stroke="#262626" stroke-width="1.2"/>
<line x1="207.9" y1="333.81" x2="209.6" y2="333.81" stroke="#262626" stroke-width="1.2"/>
<line x1="322.9" y1="333.81" x2="321.2" y2="333.81" stroke="#262626" stroke-width="1.2"/>
<line x1="207.9" y1="316.12" x2="209.6" y2="316.12" stroke="#262626" stroke-width="1.2"/>
<line x1="322.9" y1="316.12" x2="321.2" y2="316.12" stroke="#262626" stroke-width="1.2"/>
<line x1="207.9" y1="298.42" x2="209.6" y2="298.42" stroke="#262626" stroke-width="1.2"/>
<line x1="322.9" y1="298.42" x2="321.2" y2="298.42" stroke="#262626" stroke-width="1.2"/>
<line x1="207.9" y1="280.73" x2="209.6" y2="280.73" stroke="#262626" stroke-width="1.2"/>
<line x1="322.9" y1="280.73" x2="321.2" y2="280.73" stroke="#262626" stroke-width="1.2"/>
<line x1="207.9" y1="263.04" x2="209.6" y2="263.04" stroke="#262626" stroke-width="1.2"/>
<line x1="322.9" y1="263.04" x2="321.2" y2="263.04" stroke="#262626" stroke-width="1.2"/>
<line x1="207.9" y1="245.35" x2="209.6" y2="245.35" stroke="#262626" stroke-width="1.2"/>
<line x1="322.9" y1="245.35" x2="321.2" y2="245.35" stroke="#262626" stroke-width="1.2"/>
<g fill="none" stroke-width="1">
<circle cx="208.25" cy="246.76" r="1.5" stroke="#0080ff"/>
<circle cx="208.43" cy="284.27" r="1.5" stroke="#0080ff"/>
<circle cx="207.9" cy="303.38" r="1.5" stroke="#0080ff"/>
<circle cx="207.9" cy="319.65" r="1.5" stroke="#0080ff"/>
<circle cx="209.49" cy="327.97" r="1.5" stroke="#0080ff"/>
<circle cx="225.77" cy="280.2" r="1.5" stroke="#0080ff"/>
<circle cx="224.88" cy="298.07" r="1.5" stroke="#0080ff"/>
<circle cx="226.3" cy="297.89" r="1.5" stroke="#0080ff"/>
<circle cx="225.06" cy="313.46" r="1.5" stroke="#0080ff"/>
<circle cx="226.83" cy="317.18" r="1.5" stroke="#0080ff"/>
<circle cx="243.11" cy="296.83" r="1.5" stroke="#0080ff"/>
<circle cx="209.67" cy="261.62" r="1.5" stroke="#0080ff"/>
<circle cx="208.11" cy="280.87" r="1.5" stroke="#007dfa"/>
<circle cx="208.71" cy="280.67" r="1.5" stroke="#007dfa"/>
<circle cx="208.02" cy="280.28" r="1.5" stroke="#007dfa"/>
<circle cx="207.9" cy="281.42" r="1.5" stroke="#007dfa"/>
<circle cx="208.32" cy="280.3" r="1.5" stroke="#007dfa"/>
<circle cx="208.7" cy="280.89" r="1.5" stroke="#007dfa"/>
<circle cx="207.86" cy="280.56" r="1.5" stroke="#007dfa"/>
<circle cx="208.04" cy="280.3" r="1.5" stroke="#007dfa"/>
<circle cx="208.4" cy="281.22" r="1.5" stroke="#007dfa"/>
<circle cx="208.18" cy="280.75" r="1.5" stroke="#007dfa"/>
<circle cx="208.69" cy="280.18" r="1.5" stroke="#007dfa"/>
<circle cx="208.12" cy="281.38" r="1.5" stroke="#007dfa"/>
<circle cx="207.93" cy="280.39" r="1.5" stroke="#007dfa"/>
<circle cx="208.35" cy="280.04" r="1.5" stroke="#007dfa"/>
<circle cx="208.58" cy="280.79" r="1.5" stroke="#007dfa"/>
<circle cx="208" cy="280.89" r="1.5" stroke="#007dfa"/>
<circle cx="207.72" cy="280.42" r="1.5" stroke="#007dfa"/>
<circle cx="208.14" cy="281.16" r="1.5" stroke="#007dfa"/>
<circle cx="208.3" cy="262.64" r="1.5" stroke="#007dfa"/>
<circle cx="208.59" cy="262.26" r="1.5" stroke="#007dfa"/>
<circle cx="208.56" cy="263.49" r="1.5" stroke="#007dfa"/>
<circle cx="207.92" cy="262.81" r="1.5" stroke="#007dfa"/>
<circle cx="208.03" cy="262.89" r="1.5" stroke="#007dfa"/>
<circle cx="208.09" cy="262.9" r="1.5" stroke="#007dfa"/>
<circle cx="208.24" cy="263.44" r="1.5" stroke="#007dfa"/>
<circle cx="208.46" cy="263.77" r="1.5" stroke="#007dfa"/>
<circle cx="208.93" cy="262.44" r="1.5" stroke="#007dfa"/>
<circle cx="208.09" cy="263.44" r="1.5" stroke="#007dfa"/>
<circle cx="208.72" cy="263.12" r="1.5" stroke="#007dfa"/>
<circle cx="208.75" cy="262.31" r="1.5" stroke="#007dfa"/>
<circle cx="224.86" cy="334.18" r="1.5" stroke="#007dfa"/>
<circle cx="226.48" cy="333.6" r="1.5" stroke="#007dfa"/>
<circle cx="224.49" cy="333.62" r="1.5" stroke="#007dfa"/>
<circle cx="225.4" cy="333.93" r="1.5" stroke="#007dfa"/>
<circle cx="227.03" cy="333.59" r="1.5" stroke="#007dfa"/>
<circle cx="224.47" cy="333.96" r="1.5" stroke="#007dfa"/>
<circle cx="207.85" cy="297.83" r="1.5" stroke="#007cf7"/>
<circle cx="208.75" cy="299.33" r="1.5" stroke="#007cf7"/>
<circle cx="207.99" cy="299.22" r="1.5" stroke="#007cf7"/>
<circle cx="208.11" cy="299.02" r="1.5" stroke="#007cf7"/>
<circle cx="208.53" cy="298.09" r="1.5" stroke="#007cf7"/>
<circle cx="209.02" cy="298.85" r="1.5" stroke="#007cf7"/>
<circle cx="208.11" cy="298.58" r="1.5" stroke="#007cf7"/>
<circle cx="208.07" cy="297.95" r="1.5" stroke="#007cf7"/>
<circle cx="207.77" cy="298.28" r="1.5" stroke="#007cf7"/>
<circle cx="208" cy="298.3" r="1.5" stroke="#007cf7"/>
<circle cx="207.77" cy="298.24" r="1.5" stroke="#007cf7"/>
<circle cx="208.69" cy="299.24" r="1.5" stroke="#007cf7"/>
<circle cx="207.88" cy="297.61" r="1.5" stroke="#007cf7"/>
<circle cx="208.55" cy="298.22" r="1.5" stroke="#007cf7"/>
<circle cx="209.08" cy="298.68" r="1.5" stroke="#007cf7"/>
<circle cx="208.58" cy="298.83" r="1.5" stroke="#007cf7"/>
<circle cx="207.93" cy="299.29" r="1.5" stroke="#007cf7"/>
<circle cx="208.98" cy="299.13" r="1.5" stroke="#007cf7"/>
<circle cx="208.85" cy="297.7" r="1.5" stroke="#007cf7"/>
<circle cx="207.69" cy="298.13" r="1.5" stroke="#007cf7"/>
<circle cx="208.75" cy="297.76" r="1.5" stroke="#007cf7"/>
<circle cx="208.71" cy="298.39" r="1.5" stroke="#007cf7"/>
<circle cx="207.84" cy="299.1" r="1.5" stroke="#007cf7"/>
<circle cx="207.88" cy="298.41" r="1.5" stroke="#007cf7"/>
<circle cx="208.81" cy="298.72" r="1.5" stroke="#007cf7"/>
<circle cx="207.98" cy="299.26" r="1.5" stroke="#007cf7"/>
<circle cx="208.11" cy="298.25" r="1.5" stroke="#007cf7"/>
<circle cx="208.3" cy="298.87" r="1.5" stroke="#007cf7"/>
<circle cx="207.66" cy="298.73" r="1.5" stroke="#007cf7"/>
<circle cx="208.38" cy="299.08" r="1.5" stroke="#007cf7"/>
<circle cx="226.86" cy="351.72" r="1.5" stroke="#007cf7"/>
<circle cx="226.21" cy="351.72" r="1.5" stroke="#007cf7"/>
<circle cx="224.47" cy="351.19" r="1.5" stroke="#007cf7"/>
<circle cx="224.01" cy="351.39" r="1.5" stroke="#007cf7"/>
<circle cx="225.3" cy="351.38" r="1.5" stroke="#007cf7"/>
<circle cx="226.81" cy="351.61" r="1.5" stroke="#007cf7"/>
<circle cx="226.75" cy="351.86" r="1.5" stroke="#007cf7"/>
<circle cx="226.6" cy="351.51" r="1.5" stroke="#007cf7"/>
<circle cx="225.25" cy="351.54" r="1.5" stroke="#007cf7"/>
<circle cx="225.44" cy="351.67" r="1.5" stroke="#007cf7"/>
<circle cx="226.93" cy="351.68" r="1.5" stroke="#007cf7"/>
<circle cx="224.66" cy="351.56" r="1.5" stroke="#007cf7"/>
<circle cx="225.42" cy="351.12" r="1.5" stroke="#007cf7"/>
<circle cx="224.09" cy="351.45" r="1.5" stroke="#007cf7"/>
<circle cx="227.27" cy="351.7" r="1.5" stroke="#007cf7"/>
<circle cx="226.45" cy="351.6" r="1.5" stroke="#007cf7"/>
<circle cx="224.96" cy="351.48" r="1.5" stroke="#007cf7"/>
<circle cx="224.16" cy="351.63" r="1.5" stroke="#007cf7"/>
<circle cx="226.02" cy="351.64" r="1.5" stroke="#007cf7"/>
<circle cx="225.57" cy="351.56" r="1.5" stroke="#007cf7"/>
<circle cx="226.61" cy="351.24" r="1.5" stroke="#007cf7"/>
<circle cx="224.81" cy="351.05" r="1.5" stroke="#007cf7"/>
<circle cx="226.68" cy="351.86" r="1.5" stroke="#007cf7"/>
<circle cx="227.25" cy="351.6" r="1.5" stroke="#007cf7"/>
<circle cx="226.73" cy="351.85" r="1.5" stroke="#007cf7"/>
<circle cx="226.41" cy="351.62" r="1.5" stroke="#007cf7"/>
<circle cx="225.2" cy="351.86" r="1.5" stroke="#007cf7"/>
<circle cx="224.78" cy="351.05" r="1.5" stroke="#007cf7"/>
<circle cx="226.41" cy="351.65" r="1.5" stroke="#007cf7"/>
<circle cx="224.11" cy="351.44" r="1.5" stroke="#007cf7"/>
<circle cx="209.45" cy="315.01" r="1.5" stroke="#007bf5"/>
<circle cx="209.35" cy="315.91" r="1.5" stroke="#007bf5"/>
<circle cx="207.68" cy="313.81" r="1.5" stroke="#007bf5"/>
<circle cx="207.59" cy="315.71" r="1.5" stroke="#007bf5"/>
<circle cx="209.02" cy="317.81" r="1.5" stroke="#007bf5"/>
<circle cx="207.66" cy="317.95" r="1.5" stroke="#007bf5"/>
<circle cx="207.74" cy="316.28" r="1.5" stroke="#007bf5"/>
<circle cx="207.51" cy="316.73" r="1.5" stroke="#007bf5"/>
<circle cx="208.79" cy="317.07" r="1.5" stroke="#007bf5"/>
<circle cx="208.84" cy="315.25" r="1.5" stroke="#007bf5"/>
<circle cx="208.68" cy="319.28" r="1.5" stroke="#007bf5"/>
<circle cx="208.81" cy="313.42" r="1.5" stroke="#007bf5"/>
<circle cx="208.79" cy="315.27" r="1.5" stroke="#007bf5"/>
<circle cx="207.65" cy="317.35" r="1.5" stroke="#007bf5"/>
<circle cx="209.11" cy="317.61" r="1.5" stroke="#007bf5"/>
<circle cx="208.95" cy="317.33" r="1.5" stroke="#007bf5"/>
<circle cx="207.88" cy="315.44" r="1.5" stroke="#007bf5"/>
<circle cx="209.02" cy="316.22" r="1.5" stroke="#007bf5"/>
<circle cx="208.37" cy="318.89" r="1.5" stroke="#007bf5"/>
<circle cx="208.21" cy="318.48" r="1.5" stroke="#007bf5"/>
<circle cx="207.31" cy="316.32" r="1.5" stroke="#007bf5"/>
<circle cx="208.87" cy="314.7" r="1.5" stroke="#007bf5"/>
<circle cx="208.7" cy="316.93" r="1.5" stroke="#007bf5"/>
<circle cx="207.78" cy="313.72" r="1.5" stroke="#007bf5"/>
<circle cx="208.26" cy="313.24" r="1.5" stroke="#007bf5"/>
<circle cx="207.44" cy="317.84" r="1.5" stroke="#007bf5"/>
<circle cx="207.43" cy="316.39" r="1.5" stroke="#007bf5"/>
<circle cx="209.33" cy="315.81" r="1.5" stroke="#007bf5"/>
<circle cx="209.15" cy="318.3" r="1.5" stroke="#007bf5"/>
<circle cx="209.08" cy="318.53" r="1.5" stroke="#007bf5"/>
<circle cx="209.25" cy="317.53" r="1.5" stroke="#007bf5"/>
<circle cx="208.42" cy="319.14" r="1.5" stroke="#007bf5"/>
<circle cx="208.98" cy="317.85" r="1.5" stroke="#007bf5"/>
<circle cx="208.98" cy="316.67" r="1.5" stroke="#007bf5"/>
<circle cx="208.92" cy="316.31" r="1.5" stroke="#007bf5"/>
<circle cx="208.55" cy="314.71" r="1.5" stroke="#007bf5"/>
<circle cx="208.56" cy="318.62" r="1.5" stroke="#007bf5"/>
<circle cx="209.55" cy="316.46" r="1.5" stroke="#007bf5"/>
<circle cx="208.96" cy="313.39" r="1.5" stroke="#007bf5"/>
<circle cx="207.54" cy="316.51" r="1.5" stroke="#007bf5"/>
<circle cx="207.55" cy="316.11" r="1.5" stroke="#007bf5"/>
<circle cx="207.93" cy="313.74" r="1.5" stroke="#007bf5"/>
<circle cx="207.58" cy="315.62" r="1.5" stroke="#007bf5"/>
<circle cx="209.1" cy="313.95" r="1.5" stroke="#007bf5"/>
<circle cx="207.8" cy="317.23" r="1.5" stroke="#007bf5"/>
<circle cx="208.93" cy="351.01" r="1.5" stroke="#000000"/>
<circle cx="208.75" cy="351.76" r="1.5" stroke="#000000"/>
<circle cx="208.34" cy="351.05" r="1.5" stroke="#000000"/>
<circle cx="208.46" cy="351.81" r="1.5" stroke="#000000"/>
<circle cx="208.14" cy="351.93" r="1.5" stroke="#000000"/>
<circle cx="208.59" cy="351.45" r="1.5" stroke="#000000"/>
<circle cx="208.52" cy="351.72" r="1.5" stroke="#000000"/>
<circle cx="208.65" cy="351.03" r="1.5" stroke="#000000"/>
<circle cx="208.69" cy="351.19" r="1.5" stroke="#000000"/>
<circle cx="209.09" cy="351.76" r="1.5" stroke="#000000"/>
<circle cx="209.41" cy="351.33" r="1.5" stroke="#000000"/>
<circle cx="208.61" cy="351.38" r="1.5" stroke="#000000"/>
<circle cx="208.65" cy="351.77" r="1.5" stroke="#000000"/>
<circle cx="208.01" cy="351.44" r="1.5" stroke="#000000"/>
<circle cx="208.86" cy="351.25" r="1.5" stroke="#000000"/>
<circle cx="208.02" cy="351.6" r="1.5" stroke="#000000"/>
<circle cx="208.24" cy="351.8" r="1.5" stroke="#000000"/>
<circle cx="209.17" cy="351.28" r="1.5" stroke="#000000"/>
<circle cx="209.04" cy="351.46" r="1.5" stroke="#000000"/>
<circle cx="208.8" cy="352.1" r="1.5" stroke="#000000"/>
<circle cx="208.5" cy="352.09" r="1.5" stroke="#000000"/>
<circle cx="209.11" cy="351.79" r="1.5" stroke="#000000"/>
<circle cx="208.05" cy="351.25" r="1.5" stroke="#000000"/>
<circle cx="209.13" cy="351.94" r="1.5" stroke="#000000"/>
<circle cx="209.29" cy="351.97" r="1.5" stroke="#000000"/>
<circle cx="208.22" cy="350.99" r="1.5" stroke="#000000"/>
<circle cx="209.27" cy="351.88" r="1.5" stroke="#000000"/>
<circle cx="209.43" cy="351.41" r="1.5" stroke="#000000"/>
<circle cx="208.54" cy="350.81" r="1.5" stroke="#000000"/>
<circle cx="208.88" cy="351.8" r="1.5" stroke="#000000"/>
<circle cx="208.56" cy="350.79" r="1.5" stroke="#000000"/>
<circle cx="208.45" cy="352.02" r="1.5" stroke="#000000"/>
<circle cx="208.4" cy="351.03" r="1.5" stroke="#000000"/>
<circle cx="209.44" cy="351.21" r="1.5" stroke="#000000"/>
<circle cx="208.15" cy="351.75" r="1.5" stroke="#000000"/>
<circle cx="209.01" cy="352.07" r="1.5" stroke="#000000"/>
<circle cx="208.73" cy="351.61" r="1.5" stroke="#000000"/>
<circle cx="209.29" cy="351.08" r="1.5" stroke="#000000"/>
<circle cx="208.44" cy="351.76" r="1.5" stroke="#000000"/>
<circle cx="208.88" cy="351.56" r="1.5" stroke="#000000"/>
<circle cx="208.53" cy="336.08" r="1.5" stroke="#000000"/>
<circle cx="208.46" cy="334.74" r="1.5" stroke="#000000"/>
<circle cx="209.43" cy="333.29" r="1.5" stroke="#000000"/>
<circle cx="208.19" cy="332.99" r="1.5" stroke="#000000"/>
<circle cx="208.59" cy="333.53" r="1.5" stroke="#000000"/>
<circle cx="209.06" cy="334.73" r="1.5" stroke="#000000"/>
<circle cx="209.1" cy="333.1" r="1.5" stroke="#000000"/>
<circle cx="209.06" cy="334.07" r="1.5" stroke="#000000"/>
<circle cx="208.2" cy="334.05" r="1.5" stroke="#000000"/>
<circle cx="208.51" cy="334.72" r="1.5" stroke="#000000"/>
<circle cx="209.18" cy="332.46" r="1.5" stroke="#000000"/>
<circle cx="208.7" cy="333.57" r="1.5" stroke="#000000"/>
<circle cx="209.18" cy="333.49" r="1.5" stroke="#000000"/>
<circle cx="209.07" cy="332.61" r="1.5" stroke="#000000"/>
<circle cx="209.14" cy="336.15" r="1.5" stroke="#000000"/>
<circle cx="209.24" cy="333.63" r="1.5" stroke="#000000"/>
<circle cx="208.09" cy="333.35" r="1.5" stroke="#000000"/>
<circle cx="208.72" cy="332.63" r="1.5" stroke="#000000"/>
<circle cx="208.99" cy="331.95" r="1.5" stroke="#000000"/>
<circle cx="209.2" cy="335.67" r="1.5" stroke="#000000"/>
<circle cx="208.1" cy="334.81" r="1.5" stroke="#000000"/>
<circle cx="208.43" cy="334.53" r="1.5" stroke="#000000"/>
<circle cx="209.28" cy="332.97" r="1.5" stroke="#000000"/>
<circle cx="209.17" cy="331.97" r="1.5" stroke="#000000"/>
<circle cx="209.14" cy="333.38" r="1.5" stroke="#000000"/>
<circle cx="208.42" cy="332.45" r="1.5" stroke="#000000"/>
<circle cx="208.35" cy="335.35" r="1.5" stroke="#000000"/>
<circle cx="208.15" cy="332.42" r="1.5" stroke="#000000"/>
<circle cx="208.31" cy="332.03" r="1.5" stroke="#000000"/>
<circle cx="209.17" cy="334.26" r="1.5" stroke="#000000"/>
<circle cx="209.06" cy="335.89" r="1.5" stroke="#000000"/>
<circle cx="208.72" cy="331.4" r="1.5" stroke="#000000"/>
<circle cx="208.3" cy="333.89" r="1.5" stroke="#000000"/>
<circle cx="209.14" cy="335.98" r="1.5" stroke="#000000"/>
<circle cx="208.82" cy="332.39" r="1.5" stroke="#000000"/>
<circle cx="208.95" cy="336.07" r="1.5" stroke="#000000"/>
<circle cx="208.53" cy="336.05" r="1.5" stroke="#000000"/>
<circle cx="209.45" cy="334.21" r="1.5" stroke="#000000"/>
<circle cx="208.77" cy="331.88" r="1.5" stroke="#000000"/>
<circle cx="208.98" cy="334.91" r="1.5" stroke="#000000"/>
<circle cx="208.46" cy="333.97" r="1.5" stroke="#000000"/>
<circle cx="208.38" cy="334.97" r="1.5" stroke="#000000"/>
<circle cx="208.62" cy="334.11" r="1.5" stroke="#000000"/>
<circle cx="208.24" cy="335.64" r="1.5" stroke="#000000"/>
<circle cx="209.47" cy="335.13" r="1.5" stroke="#000000"/>
</g>
<text x="207.9" y="368.9" font-size="12" text-anchor="middle" >0</text>
<text x="203.2" y="357.1" font-size="12" text-anchor="end" >0</text>
<text x="225.59" y="368.9" font-size="12" text-anchor="middle" >1</text>
<text x="203.2" y="339.41" font-size="12" text-anchor="end" >1</text>
<text x="243.28" y="368.9" font-size="12" text-anchor="middle" >2</text>
<text x="203.2" y="321.72" font-size="12" text-anchor="end" >2</text>
<text x="260.98" y="368.9" font-size="12" text-anchor="middle" >3</text>
<text x="203.2" y="304.02" font-size="12" text-anchor="end" >3</text>
<text x="278.67" y="368.9" font-size="12" text-anchor="middle" >4</text>
<text x="203.2" y="286.33" font-size="12" text-anchor="end" >4</text>
<text x="296.36" y="368.9" font-size="12" text-anchor="middle" >5</text>
<text x="203.2" y="268.64" font-size="12" text-anchor="end" >5</text>
<text x="314.05" y="368.9" font-size="12" text-anchor="middle" >6</text>
<text x="203.2" y="250.95" font-size="12" text-anchor="end" >6</text>
<text x="265.4" y="385.8" font-size="13.1" text-anchor="middle" >H-Polarized</text>
<text transform="translate(190.4,294) rotate(-90)" font-size="13.3" text-anchor="middle">V-Polarized</text>
<text x="254.7" y="253.6" font-size="12" text-anchor="start" >(f) T=500 fs</text>
<text x="254.4" y="270.6" font-size="12" text-anchor="start"><tspan font-style="italic" font-size="10.32" textLength="4.8" lengthAdjust="spacingAndGlyphs">θ</tspan><tspan font-size="9.6" dy="5.64" dx="0.9">qwp</tspan><tspan dy="-5.64" dx="0.9">= 0°</tspan></text>
<rect x="378.8" y="219.4" width="115.6" height="12.0" fill="url(#cb)" stroke="#3a3a3a" stroke-opacity="0.55" stroke-width="0.5"/>
<text x="378.6" y="214.2" font-size="11.1" text-anchor="middle" >1</text>
<text x="436.2" y="214.2" font-size="11.1" text-anchor="middle" >440</text>
<text x="493.2" y="214.2" font-size="11.1" text-anchor="middle" >890</text>
<line x1="396.89" y1="236.5" x2="396.89" y2="351.5" stroke="#cecece" stroke-width="1"/>
<line x1="414.58" y1="236.5" x2="414.58" y2="351.5" stroke="#cecece" stroke-width="1"/>
<line x1="432.28" y1="236.5" x2="432.28" y2="351.5" stroke="#cecece" stroke-width="1"/>
<line x1="449.97" y1="236.5" x2="449.97" y2="351.5" stroke="#cecece" stroke-width="1"/>
<line x1="467.66" y1="236.5" x2="467.66" y2="351.5" stroke="#cecece" stroke-width="1"/>
<line x1="485.35" y1="236.5" x2="485.35" y2="351.5" stroke="#cecece" stroke-width="1"/>
<line x1="379.2" y1="333.81" x2="494.2" y2="333.81" stroke="#cecece" stroke-width="1"/>
<line x1="379.2" y1="316.12" x2="494.2" y2="316.12" stroke="#cecece" stroke-width="1"/>
<line x1="379.2" y1="298.42" x2="494.2" y2="298.42" stroke="#cecece" stroke-width="1"/>
<line x1="379.2" y1="280.73" x2="494.2" y2="280.73" stroke="#cecece" stroke-width="1"/>
<line x1="379.2" y1="263.04" x2="494.2" y2="263.04" stroke="#cecece" stroke-width="1"/>
<line x1="379.2" y1="245.35" x2="494.2" y2="245.35" stroke="#cecece" stroke-width="1"/>
<rect x="379.2" y="236.5" width="115" height="115" fill="none" stroke="#262626" stroke-width="1.85"/>
<line x1="379.2" y1="351.5" x2="379.2" y2="349.8" stroke="#262626" stroke-width="1.2"/>
<line x1="379.2" y1="236.5" x2="379.2" y2="238.2" stroke="#262626" stroke-width="1.2"/>
<line x1="396.89" y1="351.5" x2="396.89" y2="349.8" stroke="#262626" stroke-width="1.2"/>
<line x1="396.89" y1="236.5" x2="396.89" y2="238.2" stroke="#262626" stroke-width="1.2"/>
<line x1="414.58" y1="351.5" x2="414.58" y2="349.8" stroke="#262626" stroke-width="1.2"/>
<line x1="414.58" y1="236.5" x2="414.58" y2="238.2" stroke="#262626" stroke-width="1.2"/>
<line x1="432.28" y1="351.5" x2="432.28" y2="349.8" stroke="#262626" stroke-width="1.2"/>
<line x1="432.28" y1="236.5" x2="432.28" y2="238.2" stroke="#262626" stroke-width="1.2"/>
<line x1="449.97" y1="351.5" x2="449.97" y2="349.8" stroke="#262626" stroke-width="1.2"/>
<line x1="449.97" y1="236.5" x2="449.97" y2="238.2" stroke="#262626" stroke-width="1.2"/>
<line x1="467.66" y1="351.5" x2="467.66" y2="349.8" stroke="#262626" stroke-width="1.2"/>
<line x1="467.66" y1="236.5" x2="467.66" y2="238.2" stroke="#262626" stroke-width="1.2"/>
<line x1="485.35" y1="351.5" x2="485.35" y2="349.8" stroke="#262626" stroke-width="1.2"/>
<line x1="485.35" y1="236.5" x2="485.35" y2="238.2" stroke="#262626" stroke-width="1.2"/>
<line x1="379.2" y1="351.5" x2="380.9" y2="351.5" stroke="#262626" stroke-width="1.2"/>
<line x1="494.2" y1="351.5" x2="492.5" y2="351.5" stroke="#262626" stroke-width="1.2"/>
<line x1="379.2" y1="333.81" x2="380.9" y2="333.81" stroke="#262626" stroke-width="1.2"/>
<line x1="494.2" y1="333.81" x2="492.5" y2="333.81" stroke="#262626" stroke-width="1.2"/>
<line x1="379.2" y1="316.12" x2="380.9" y2="316.12" stroke="#262626" stroke-width="1.2"/>
<line x1="494.2" y1="316.12" x2="492.5" y2="316.12" stroke="#262626" stroke-width="1.2"/>
<line x1="379.2" y1="298.42" x2="380.9" y2="298.42" stroke="#262626" stroke-width="1.2"/>
<line x1="494.2" y1="298.42" x2="492.5" y2="298.42" stroke="#262626" stroke-width="1.2"/>
<line x1="379.2" y1="280.73" x2="380.9" y2="280.73" stroke="#262626" stroke-width="1.2"/>
<line x1="494.2" y1="280.73" x2="492.5" y2="280.73" stroke="#262626" stroke-width="1.2"/>
<line x1="379.2" y1="263.04" x2="380.9" y2="263.04" stroke="#262626" stroke-width="1.2"/>
<line x1="494.2" y1="263.04" x2="492.5" y2="263.04" stroke="#262626" stroke-width="1.2"/>
<line x1="379.2" y1="245.35" x2="380.9" y2="245.35" stroke="#262626" stroke-width="1.2"/>
<line x1="494.2" y1="245.35" x2="492.5" y2="245.35" stroke="#262626" stroke-width="1.2"/>
<g fill="none" stroke-width="1">
<circle cx="396.54" cy="315.76" r="1.5" stroke="#0080ff"/>
<circle cx="408.04" cy="349.91" r="1.5" stroke="#0080ff"/>
<circle cx="379.48" cy="333.06" r="1.5" stroke="#007dfa"/>
<circle cx="379.61" cy="334.39" r="1.5" stroke="#007dfa"/>
<circle cx="379.38" cy="333.72" r="1.5" stroke="#007dfa"/>
<circle cx="380.84" cy="334.6" r="1.5" stroke="#007dfa"/>
<circle cx="380.01" cy="334.63" r="1.5" stroke="#007dfa"/>
<circle cx="380.44" cy="333.15" r="1.5" stroke="#007dfa"/>
<circle cx="380.8" cy="333.54" r="1.5" stroke="#007dfa"/>
<circle cx="381.11" cy="333.73" r="1.5" stroke="#007dfa"/>
<circle cx="379.43" cy="334.17" r="1.5" stroke="#007dfa"/>
<circle cx="380.58" cy="334.82" r="1.5" stroke="#007dfa"/>
<circle cx="380.43" cy="333.75" r="1.5" stroke="#007dfa"/>
<circle cx="380.91" cy="333.27" r="1.5" stroke="#007dfa"/>
<circle cx="380.77" cy="334.35" r="1.5" stroke="#007dfa"/>
<circle cx="379.24" cy="333.69" r="1.5" stroke="#007dfa"/>
<circle cx="380.34" cy="333.76" r="1.5" stroke="#007dfa"/>
<circle cx="379.72" cy="332.93" r="1.5" stroke="#007dfa"/>
<circle cx="381.09" cy="333.7" r="1.5" stroke="#007dfa"/>
<circle cx="379.5" cy="332.94" r="1.5" stroke="#007dfa"/>
<circle cx="378.92" cy="334.01" r="1.5" stroke="#007dfa"/>
<circle cx="379.57" cy="333.94" r="1.5" stroke="#007dfa"/>
<circle cx="381.12" cy="333.77" r="1.5" stroke="#007dfa"/>
<circle cx="380.72" cy="334.42" r="1.5" stroke="#007dfa"/>
<circle cx="380.12" cy="333.94" r="1.5" stroke="#007dfa"/>
<circle cx="380.34" cy="333.74" r="1.5" stroke="#007dfa"/>
<circle cx="379.55" cy="334.77" r="1.5" stroke="#007dfa"/>
<circle cx="381.01" cy="334.29" r="1.5" stroke="#007dfa"/>
<circle cx="381.2" cy="333.94" r="1.5" stroke="#007dfa"/>
<circle cx="379.09" cy="334.27" r="1.5" stroke="#007dfa"/>
<circle cx="379.15" cy="334.41" r="1.5" stroke="#007dfa"/>
<circle cx="380.46" cy="333.1" r="1.5" stroke="#007dfa"/>
<circle cx="397.12" cy="333.26" r="1.5" stroke="#007cf7"/>
<circle cx="397.14" cy="333.63" r="1.5" stroke="#007cf7"/>
<circle cx="396.44" cy="334.04" r="1.5" stroke="#007cf7"/>
<circle cx="397.09" cy="334.3" r="1.5" stroke="#007cf7"/>
<circle cx="396.82" cy="334.18" r="1.5" stroke="#007cf7"/>
<circle cx="397.16" cy="334.56" r="1.5" stroke="#007cf7"/>
<circle cx="397.24" cy="333.53" r="1.5" stroke="#007cf7"/>
<circle cx="433.47" cy="333.54" r="1.5" stroke="#007cf7"/>
<circle cx="434.36" cy="333.7" r="1.5" stroke="#007cf7"/>
<circle cx="434.18" cy="333.83" r="1.5" stroke="#007cf7"/>
<circle cx="431.47" cy="351.85" r="1.5" stroke="#007bf5"/>
<circle cx="432.29" cy="351.43" r="1.5" stroke="#007bf5"/>
<circle cx="431.83" cy="350.97" r="1.5" stroke="#007bf5"/>
<circle cx="432.17" cy="351.91" r="1.5" stroke="#007bf5"/>
<circle cx="431.35" cy="351.47" r="1.5" stroke="#007bf5"/>
<circle cx="432.97" cy="351.88" r="1.5" stroke="#007bf5"/>
<circle cx="431.63" cy="351.47" r="1.5" stroke="#007bf5"/>
<circle cx="431.4" cy="351.62" r="1.5" stroke="#007bf5"/>
<circle cx="433.31" cy="351.67" r="1.5" stroke="#007bf5"/>
<circle cx="433.06" cy="351.22" r="1.5" stroke="#007bf5"/>
<circle cx="432.36" cy="350.82" r="1.5" stroke="#007bf5"/>
<circle cx="433.09" cy="351.59" r="1.5" stroke="#007bf5"/>
<circle cx="432.92" cy="350.91" r="1.5" stroke="#007bf5"/>
<circle cx="432.76" cy="350.99" r="1.5" stroke="#007bf5"/>
<circle cx="432.65" cy="351.72" r="1.5" stroke="#007bf5"/>
<circle cx="432.88" cy="351.8" r="1.5" stroke="#007bf5"/>
<circle cx="431.6" cy="351.39" r="1.5" stroke="#007bf5"/>
<circle cx="432.6" cy="352.01" r="1.5" stroke="#007bf5"/>
<circle cx="432.73" cy="351.48" r="1.5" stroke="#007bf5"/>
<circle cx="433.14" cy="351.98" r="1.5" stroke="#007bf5"/>
<circle cx="431.78" cy="351.06" r="1.5" stroke="#007bf5"/>
<circle cx="431.69" cy="351.61" r="1.5" stroke="#007bf5"/>
<circle cx="414.4" cy="333.89" r="1.5" stroke="#007bf5"/>
<circle cx="414.6" cy="333.89" r="1.5" stroke="#007bf5"/>
<circle cx="414.22" cy="333.77" r="1.5" stroke="#007bf5"/>
<circle cx="413.67" cy="352.16" r="1.5" stroke="#007af2"/>
<circle cx="414.32" cy="352.26" r="1.5" stroke="#007af2"/>
<circle cx="415.21" cy="350.86" r="1.5" stroke="#007af2"/>
<circle cx="415.93" cy="351.7" r="1.5" stroke="#007af2"/>
<circle cx="413.83" cy="350.98" r="1.5" stroke="#007af2"/>
<circle cx="415.98" cy="351.34" r="1.5" stroke="#007af2"/>
<circle cx="415.07" cy="350.82" r="1.5" stroke="#007af2"/>
<circle cx="415.41" cy="351.7" r="1.5" stroke="#007af2"/>
<circle cx="415.29" cy="352.06" r="1.5" stroke="#007af2"/>
<circle cx="414.9" cy="352.29" r="1.5" stroke="#007af2"/>
<circle cx="415.35" cy="350.82" r="1.5" stroke="#007af2"/>
<circle cx="416.2" cy="350.84" r="1.5" stroke="#007af2"/>
<circle cx="413.83" cy="350.9" r="1.5" stroke="#007af2"/>
<circle cx="415.75" cy="351.41" r="1.5" stroke="#007af2"/>
<circle cx="414.51" cy="352" r="1.5" stroke="#007af2"/>
<circle cx="414.36" cy="350.76" r="1.5" stroke="#007af2"/>
<circle cx="415.18" cy="352.25" r="1.5" stroke="#007af2"/>
<circle cx="415.92" cy="351.15" r="1.5" stroke="#007af2"/>
<circle cx="416.77" cy="351.28" r="1.5" stroke="#007af2"/>
<circle cx="413.47" cy="351.16" r="1.5" stroke="#007af2"/>
<circle cx="415.04" cy="350.85" r="1.5" stroke="#007af2"/>
<circle cx="416.01" cy="351.16" r="1.5" stroke="#007af2"/>
<circle cx="415.9" cy="350.96" r="1.5" stroke="#007af2"/>
<circle cx="414.95" cy="351.82" r="1.5" stroke="#007af2"/>
<circle cx="413.87" cy="351.08" r="1.5" stroke="#007af2"/>
<circle cx="416.28" cy="351.29" r="1.5" stroke="#007af2"/>
<circle cx="414.41" cy="351.74" r="1.5" stroke="#007af2"/>
<circle cx="415.71" cy="352.23" r="1.5" stroke="#007af2"/>
<circle cx="415.23" cy="352.21" r="1.5" stroke="#007af2"/>
<circle cx="416.58" cy="351.89" r="1.5" stroke="#007af2"/>
<circle cx="415.73" cy="351.28" r="1.5" stroke="#007af2"/>
<circle cx="414.66" cy="351.18" r="1.5" stroke="#007af2"/>
<circle cx="415.17" cy="352.01" r="1.5" stroke="#007af2"/>
<circle cx="415.26" cy="352.28" r="1.5" stroke="#007af2"/>
<circle cx="415.33" cy="352.2" r="1.5" stroke="#007af2"/>
<circle cx="450.15" cy="351.56" r="1.5" stroke="#006dd9"/>
<circle cx="450.03" cy="351.57" r="1.5" stroke="#006dd9"/>
<circle cx="395.29" cy="352.02" r="1.5" stroke="#004f9e"/>
<circle cx="394.84" cy="350.71" r="1.5" stroke="#004f9e"/>
<circle cx="396.46" cy="350.76" r="1.5" stroke="#004f9e"/>
<circle cx="396.51" cy="350.39" r="1.5" stroke="#004f9e"/>
<circle cx="394.72" cy="351.56" r="1.5" stroke="#004f9e"/>
<circle cx="395.82" cy="351.07" r="1.5" stroke="#004f9e"/>
<circle cx="397.52" cy="350.11" r="1.5" stroke="#004f9e"/>
<circle cx="394.45" cy="351.55" r="1.5" stroke="#004f9e"/>
<circle cx="396.36" cy="352.29" r="1.5" stroke="#004f9e"/>
<circle cx="396.73" cy="352.23" r="1.5" stroke="#004f9e"/>
<circle cx="394.46" cy="351.03" r="1.5" stroke="#004f9e"/>
<circle cx="398.26" cy="350.84" r="1.5" stroke="#004f9e"/>
<circle cx="396.31" cy="350.98" r="1.5" stroke="#004f9e"/>
<circle cx="396.02" cy="351.85" r="1.5" stroke="#004f9e"/>
<circle cx="395.74" cy="351.83" r="1.5" stroke="#004f9e"/>
<circle cx="397.76" cy="351.85" r="1.5" stroke="#004f9e"/>
<circle cx="397.47" cy="352.1" r="1.5" stroke="#004f9e"/>
<circle cx="398.25" cy="351.42" r="1.5" stroke="#004f9e"/>
<circle cx="395.55" cy="350.1" r="1.5" stroke="#004f9e"/>
<circle cx="398.47" cy="350.54" r="1.5" stroke="#004f9e"/>
<circle cx="397.74" cy="352.13" r="1.5" stroke="#004f9e"/>
<circle cx="395.03" cy="350.43" r="1.5" stroke="#004f9e"/>
<circle cx="397.46" cy="351.87" r="1.5" stroke="#004f9e"/>
<circle cx="398.12" cy="351.55" r="1.5" stroke="#004f9e"/>
<circle cx="396.3" cy="352.11" r="1.5" stroke="#004f9e"/>
<circle cx="397.64" cy="350.49" r="1.5" stroke="#004f9e"/>
<circle cx="397" cy="350.31" r="1.5" stroke="#004f9e"/>
<circle cx="396.11" cy="351.85" r="1.5" stroke="#004f9e"/>
<circle cx="394.24" cy="351.19" r="1.5" stroke="#004f9e"/>
<circle cx="396.28" cy="350.58" r="1.5" stroke="#004f9e"/>
<circle cx="394.5" cy="351.16" r="1.5" stroke="#004f9e"/>
<circle cx="395.79" cy="350.13" r="1.5" stroke="#004f9e"/>
<circle cx="396.12" cy="351.53" r="1.5" stroke="#004f9e"/>
<circle cx="394.59" cy="351.03" r="1.5" stroke="#004f9e"/>
<circle cx="395.95" cy="351.96" r="1.5" stroke="#004f9e"/>
<circle cx="398.48" cy="351.67" r="1.5" stroke="#004f9e"/>
<circle cx="395.6" cy="350.68" r="1.5" stroke="#004f9e"/>
<circle cx="398.15" cy="351.12" r="1.5" stroke="#004f9e"/>
<circle cx="397.24" cy="351.64" r="1.5" stroke="#004f9e"/>
<circle cx="395.11" cy="350.82" r="1.5" stroke="#004f9e"/>
<circle cx="398.77" cy="350.7" r="1.5" stroke="#004f9e"/>
<circle cx="398.26" cy="350.27" r="1.5" stroke="#004f9e"/>
<circle cx="394.26" cy="351.11" r="1.5" stroke="#004f9e"/>
<circle cx="395.55" cy="351.33" r="1.5" stroke="#004f9e"/>
<circle cx="396.59" cy="350.8" r="1.5" stroke="#004f9e"/>
<circle cx="398.44" cy="351.68" r="1.5" stroke="#004f9e"/>
<circle cx="395.86" cy="351.39" r="1.5" stroke="#004f9e"/>
<circle cx="396.8" cy="350.78" r="1.5" stroke="#004f9e"/>
<circle cx="395.58" cy="351.46" r="1.5" stroke="#004f9e"/>
<circle cx="398.49" cy="350.48" r="1.5" stroke="#004f9e"/>
<circle cx="379.06" cy="351.37" r="1.5" stroke="#000000"/>
<circle cx="379.11" cy="351.68" r="1.5" stroke="#000000"/>
<circle cx="380.16" cy="350.63" r="1.5" stroke="#000000"/>
<circle cx="380.18" cy="351.21" r="1.5" stroke="#000000"/>
<circle cx="378.8" cy="351.1" r="1.5" stroke="#000000"/>
<circle cx="380.19" cy="351.06" r="1.5" stroke="#000000"/>
<circle cx="380.81" cy="351.75" r="1.5" stroke="#000000"/>
<circle cx="379.61" cy="350.13" r="1.5" stroke="#000000"/>
<circle cx="379.01" cy="351.99" r="1.5" stroke="#000000"/>
<circle cx="380.36" cy="351.35" r="1.5" stroke="#000000"/>
<circle cx="379.76" cy="351" r="1.5" stroke="#000000"/>
<circle cx="379.23" cy="351.1" r="1.5" stroke="#000000"/>
<circle cx="379.05" cy="351.39" r="1.5" stroke="#000000"/>
<circle cx="380.21" cy="351.54" r="1.5" stroke="#000000"/>
<circle cx="379.29" cy="349.69" r="1.5" stroke="#000000"/>
<circle cx="379.5" cy="351.6" r="1.5" stroke="#000000"/>
<circle cx="379.92" cy="351.79" r="1.5" stroke="#000000"/>
<circle cx="379.73" cy="350.67" r="1.5" stroke="#000000"/>
<circle cx="379.2" cy="351.28" r="1.5" stroke="#000000"/>
<circle cx="380.22" cy="350.79" r="1.5" stroke="#000000"/>
<circle cx="380.04" cy="350.81" r="1.5" stroke="#000000"/>
<circle cx="380.3" cy="352.24" r="1.5" stroke="#000000"/>
<circle cx="380.68" cy="351.45" r="1.5" stroke="#000000"/>
<circle cx="379.83" cy="352.43" r="1.5" stroke="#000000"/>
<circle cx="379.77" cy="351.4" r="1.5" stroke="#000000"/>
<circle cx="380.78" cy="351.59" r="1.5" stroke="#000000"/>
<circle cx="379.64" cy="351.78" r="1.5" stroke="#000000"/>
<circle cx="380.14" cy="352.33" r="1.5" stroke="#000000"/>
<circle cx="380.2" cy="351.11" r="1.5" stroke="#000000"/>
<circle cx="381.04" cy="351.09" r="1.5" stroke="#000000"/>
<circle cx="379.66" cy="352.4" r="1.5" stroke="#000000"/>
<circle cx="380.82" cy="350.63" r="1.5" stroke="#000000"/>
<circle cx="379.31" cy="351.59" r="1.5" stroke="#000000"/>
<circle cx="379.77" cy="351.52" r="1.5" stroke="#000000"/>
<circle cx="379.23" cy="350.73" r="1.5" stroke="#000000"/>
<circle cx="379.04" cy="350.94" r="1.5" stroke="#000000"/>
<circle cx="379.25" cy="349.66" r="1.5" stroke="#000000"/>
<circle cx="379.63" cy="349.88" r="1.5" stroke="#000000"/>
<circle cx="379.7" cy="350.42" r="1.5" stroke="#000000"/>
<circle cx="380.45" cy="350.73" r="1.5" stroke="#000000"/>
</g>
<text x="379.2" y="368.9" font-size="12" text-anchor="middle" >0</text>
<text x="374.5" y="357.1" font-size="12" text-anchor="end" >0</text>
<text x="396.89" y="368.9" font-size="12" text-anchor="middle" >1</text>
<text x="374.5" y="339.41" font-size="12" text-anchor="end" >1</text>
<text x="414.58" y="368.9" font-size="12" text-anchor="middle" >2</text>
<text x="374.5" y="321.72" font-size="12" text-anchor="end" >2</text>
<text x="432.28" y="368.9" font-size="12" text-anchor="middle" >3</text>
<text x="374.5" y="304.02" font-size="12" text-anchor="end" >3</text>
<text x="449.97" y="368.9" font-size="12" text-anchor="middle" >4</text>
<text x="374.5" y="286.33" font-size="12" text-anchor="end" >4</text>
<text x="467.66" y="368.9" font-size="12" text-anchor="middle" >5</text>
<text x="374.5" y="268.64" font-size="12" text-anchor="end" >5</text>
<text x="485.35" y="368.9" font-size="12" text-anchor="middle" >6</text>
<text x="374.5" y="250.95" font-size="12" text-anchor="end" >6</text>
<text x="436.7" y="385.8" font-size="13.1" text-anchor="middle" >H-Polarized</text>
<text transform="translate(361.7,294) rotate(-90)" font-size="13.3" text-anchor="middle">V-Polarized</text>
<text x="436.7" y="253.6" font-size="12" text-anchor="start" >(g) T=0 fs</text>
<text x="437.2" y="270.6" font-size="12" text-anchor="start"><tspan font-style="italic" font-size="10.32" textLength="4.8" lengthAdjust="spacingAndGlyphs">θ</tspan><tspan font-size="9.6" dy="5.64" dx="0.9">qwp</tspan><tspan dy="-5.64" dx="0.9">= 45°</tspan></text>
<rect x="550.3" y="219.4" width="115.6" height="12.0" fill="url(#cb)" stroke="#3a3a3a" stroke-opacity="0.55" stroke-width="0.5"/>
<text x="550.1" y="214.2" font-size="11.1" text-anchor="middle" >1</text>
<text x="607.7" y="214.2" font-size="11.1" text-anchor="middle" >380</text>
<text x="664.7" y="214.2" font-size="11.1" text-anchor="middle" >760</text>
<line x1="568.39" y1="236.5" x2="568.39" y2="351.5" stroke="#cecece" stroke-width="1"/>
<line x1="586.08" y1="236.5" x2="586.08" y2="351.5" stroke="#cecece" stroke-width="1"/>
<line x1="603.78" y1="236.5" x2="603.78" y2="351.5" stroke="#cecece" stroke-width="1"/>
<line x1="621.47" y1="236.5" x2="621.47" y2="351.5" stroke="#cecece" stroke-width="1"/>
<line x1="639.16" y1="236.5" x2="639.16" y2="351.5" stroke="#cecece" stroke-width="1"/>
<line x1="656.85" y1="236.5" x2="656.85" y2="351.5" stroke="#cecece" stroke-width="1"/>
<line x1="550.7" y1="333.81" x2="665.7" y2="333.81" stroke="#cecece" stroke-width="1"/>
<line x1="550.7" y1="316.12" x2="665.7" y2="316.12" stroke="#cecece" stroke-width="1"/>
<line x1="550.7" y1="298.42" x2="665.7" y2="298.42" stroke="#cecece" stroke-width="1"/>
<line x1="550.7" y1="280.73" x2="665.7" y2="280.73" stroke="#cecece" stroke-width="1"/>
<line x1="550.7" y1="263.04" x2="665.7" y2="263.04" stroke="#cecece" stroke-width="1"/>
<line x1="550.7" y1="245.35" x2="665.7" y2="245.35" stroke="#cecece" stroke-width="1"/>
<rect x="550.7" y="236.5" width="115" height="115" fill="none" stroke="#262626" stroke-width="1.85"/>
<line x1="550.7" y1="351.5" x2="550.7" y2="349.8" stroke="#262626" stroke-width="1.2"/>
<line x1="550.7" y1="236.5" x2="550.7" y2="238.2" stroke="#262626" stroke-width="1.2"/>
<line x1="568.39" y1="351.5" x2="568.39" y2="349.8" stroke="#262626" stroke-width="1.2"/>
<line x1="568.39" y1="236.5" x2="568.39" y2="238.2" stroke="#262626" stroke-width="1.2"/>
<line x1="586.08" y1="351.5" x2="586.08" y2="349.8" stroke="#262626" stroke-width="1.2"/>
<line x1="586.08" y1="236.5" x2="586.08" y2="238.2" stroke="#262626" stroke-width="1.2"/>
<line x1="603.78" y1="351.5" x2="603.78" y2="349.8" stroke="#262626" stroke-width="1.2"/>
<line x1="603.78" y1="236.5" x2="603.78" y2="238.2" stroke="#262626" stroke-width="1.2"/>
<line x1="621.47" y1="351.5" x2="621.47" y2="349.8" stroke="#262626" stroke-width="1.2"/>
<line x1="621.47" y1="236.5" x2="621.47" y2="238.2" stroke="#262626" stroke-width="1.2"/>
<line x1="639.16" y1="351.5" x2="639.16" y2="349.8" stroke="#262626" stroke-width="1.2"/>
<line x1="639.16" y1="236.5" x2="639.16" y2="238.2" stroke="#262626" stroke-width="1.2"/>
<line x1="656.85" y1="351.5" x2="656.85" y2="349.8" stroke="#262626" stroke-width="1.2"/>
<line x1="656.85" y1="236.5" x2="656.85" y2="238.2" stroke="#262626" stroke-width="1.2"/>
<line x1="550.7" y1="351.5" x2="552.4" y2="351.5" stroke="#262626" stroke-width="1.2"/>
<line x1="665.7" y1="351.5" x2="664" y2="351.5" stroke="#262626" stroke-width="1.2"/>
<line x1="550.7" y1="333.81" x2="552.4" y2="333.81" stroke="#262626" stroke-width="1.2"/>
<line x1="665.7" y1="333.81" x2="664" y2="333.81" stroke="#262626" stroke-width="1.2"/>
<line x1="550.7" y1="316.12" x2="552.4" y2="316.12" stroke="#262626" stroke-width="1.2"/>
<line x1="665.7" y1="316.12" x2="664" y2="316.12" stroke="#262626" stroke-width="1.2"/>
<line x1="550.7" y1="298.42" x2="552.4" y2="298.42" stroke="#262626" stroke-width="1.2"/>
<line x1="665.7" y1="298.42" x2="664" y2="298.42" stroke="#262626" stroke-width="1.2"/>
<line x1="550.7" y1="280.73" x2="552.4" y2="280.73" stroke="#262626" stroke-width="1.2"/>
<line x1="665.7" y1="280.73" x2="664" y2="280.73" stroke="#262626" stroke-width="1.2"/>
<line x1="550.7" y1="263.04" x2="552.4" y2="263.04" stroke="#262626" stroke-width="1.2"/>
<line x1="665.7" y1="263.04" x2="664" y2="263.04" stroke="#262626" stroke-width="1.2"/>
<line x1="550.7" y1="245.35" x2="552.4" y2="245.35" stroke="#262626" stroke-width="1.2"/>
<line x1="665.7" y1="245.35" x2="664" y2="245.35" stroke="#262626" stroke-width="1.2"/>
<g fill="none" stroke-width="1">
<circle cx="551.23" cy="320.54" r="1.5" stroke="#0080ff"/>
<circle cx="586.08" cy="320.01" r="1.5" stroke="#0080ff"/>
<circle cx="605.19" cy="298.95" r="1.5" stroke="#0080ff"/>
<circle cx="620.58" cy="296.65" r="1.5" stroke="#0080ff"/>
<circle cx="621.65" cy="334.87" r="1.5" stroke="#0080ff"/>
<circle cx="620.05" cy="350.97" r="1.5" stroke="#0080ff"/>
<circle cx="621.82" cy="350.62" r="1.5" stroke="#0080ff"/>
<circle cx="623.59" cy="350.97" r="1.5" stroke="#0080ff"/>
<circle cx="638.81" cy="350.97" r="1.5" stroke="#0080ff"/>
<circle cx="639.16" cy="350.62" r="1.5" stroke="#0080ff"/>
<circle cx="578.12" cy="350.79" r="1.5" stroke="#0080ff"/>
<circle cx="598.82" cy="350.97" r="1.5" stroke="#0080ff"/>
<circle cx="550.68" cy="316.39" r="1.5" stroke="#007dfa"/>
<circle cx="551.27" cy="316.37" r="1.5" stroke="#007dfa"/>
<circle cx="551.34" cy="316.63" r="1.5" stroke="#007dfa"/>
<circle cx="551.62" cy="316.34" r="1.5" stroke="#007dfa"/>
<circle cx="551.7" cy="315.97" r="1.5" stroke="#007dfa"/>
<circle cx="552.06" cy="316.33" r="1.5" stroke="#007dfa"/>
<circle cx="551.82" cy="316.51" r="1.5" stroke="#007dfa"/>
<circle cx="552.04" cy="316.37" r="1.5" stroke="#007dfa"/>
<circle cx="552" cy="316" r="1.5" stroke="#007dfa"/>
<circle cx="550.93" cy="315.49" r="1.5" stroke="#007dfa"/>
<circle cx="550.9" cy="316.75" r="1.5" stroke="#007dfa"/>
<circle cx="551.55" cy="315.38" r="1.5" stroke="#007dfa"/>
<circle cx="550.54" cy="316.05" r="1.5" stroke="#007dfa"/>
<circle cx="551.37" cy="315.89" r="1.5" stroke="#007dfa"/>
<circle cx="551.9" cy="316.48" r="1.5" stroke="#007dfa"/>
<circle cx="551.81" cy="315.75" r="1.5" stroke="#007dfa"/>
<circle cx="551.57" cy="315.63" r="1.5" stroke="#007dfa"/>
<circle cx="550.98" cy="316.85" r="1.5" stroke="#007dfa"/>
<circle cx="550.84" cy="315.78" r="1.5" stroke="#007dfa"/>
<circle cx="550.85" cy="316.7" r="1.5" stroke="#007dfa"/>
<circle cx="551.6" cy="316.26" r="1.5" stroke="#007dfa"/>
<circle cx="551.86" cy="316.06" r="1.5" stroke="#007dfa"/>
<circle cx="551.62" cy="298.98" r="1.5" stroke="#007dfa"/>
<circle cx="551" cy="297.9" r="1.5" stroke="#007dfa"/>
<circle cx="551.24" cy="298.32" r="1.5" stroke="#007dfa"/>
<circle cx="551.49" cy="298.73" r="1.5" stroke="#007dfa"/>
<circle cx="551.44" cy="298.63" r="1.5" stroke="#007dfa"/>
<circle cx="550.96" cy="298.91" r="1.5" stroke="#007dfa"/>
<circle cx="551.41" cy="297.89" r="1.5" stroke="#007dfa"/>
<circle cx="550.82" cy="298.32" r="1.5" stroke="#007dfa"/>
<circle cx="551.29" cy="298.88" r="1.5" stroke="#007dfa"/>
<circle cx="551.17" cy="298.51" r="1.5" stroke="#007dfa"/>
<circle cx="550.82" cy="298.06" r="1.5" stroke="#007dfa"/>
<circle cx="550.94" cy="297.71" r="1.5" stroke="#007dfa"/>
<circle cx="551.04" cy="298.1" r="1.5" stroke="#007dfa"/>
<circle cx="551.56" cy="297.82" r="1.5" stroke="#007dfa"/>
<circle cx="568.91" cy="315.52" r="1.5" stroke="#007dfa"/>
<circle cx="567.94" cy="315.82" r="1.5" stroke="#007dfa"/>
<circle cx="568.64" cy="314.39" r="1.5" stroke="#007dfa"/>
<circle cx="567.58" cy="315.19" r="1.5" stroke="#007dfa"/>
<circle cx="569.34" cy="315.96" r="1.5" stroke="#007dfa"/>
<circle cx="568.06" cy="315.68" r="1.5" stroke="#007dfa"/>
<circle cx="569.14" cy="316.63" r="1.5" stroke="#007dfa"/>
<circle cx="568.51" cy="316.35" r="1.5" stroke="#007dfa"/>
<circle cx="569.22" cy="316.3" r="1.5" stroke="#007dfa"/>
<circle cx="567.81" cy="317.16" r="1.5" stroke="#007dfa"/>
<circle cx="567.78" cy="315.54" r="1.5" stroke="#007dfa"/>
<circle cx="568.54" cy="316.96" r="1.5" stroke="#007dfa"/>
<circle cx="567.9" cy="317.12" r="1.5" stroke="#007dfa"/>
<circle cx="569.02" cy="316.13" r="1.5" stroke="#007dfa"/>
<circle cx="568.3" cy="314.82" r="1.5" stroke="#007dfa"/>
<circle cx="568.16" cy="315.03" r="1.5" stroke="#007dfa"/>
<circle cx="568.11" cy="314.54" r="1.5" stroke="#007dfa"/>
<circle cx="569.32" cy="315.66" r="1.5" stroke="#007dfa"/>
<circle cx="568.29" cy="314.56" r="1.5" stroke="#007dfa"/>
<circle cx="568.74" cy="315.3" r="1.5" stroke="#007dfa"/>
<circle cx="568.67" cy="315.4" r="1.5" stroke="#007dfa"/>
<circle cx="568.17" cy="317.14" r="1.5" stroke="#007dfa"/>
<circle cx="568.31" cy="317.24" r="1.5" stroke="#007dfa"/>
<circle cx="568.74" cy="316.71" r="1.5" stroke="#007dfa"/>
<circle cx="568.86" cy="316.11" r="1.5" stroke="#007dfa"/>
<circle cx="586.64" cy="315.42" r="1.5" stroke="#007dfa"/>
<circle cx="585.96" cy="315.31" r="1.5" stroke="#007dfa"/>
<circle cx="585.64" cy="315.11" r="1.5" stroke="#007dfa"/>
<circle cx="604.73" cy="333.84" r="1.5" stroke="#007dfa"/>
<circle cx="604.97" cy="333.01" r="1.5" stroke="#007dfa"/>
<circle cx="603.35" cy="333.14" r="1.5" stroke="#007dfa"/>
<circle cx="604.87" cy="334.11" r="1.5" stroke="#007dfa"/>
<circle cx="603.92" cy="334.53" r="1.5" stroke="#007dfa"/>
<circle cx="603.66" cy="334.65" r="1.5" stroke="#007dfa"/>
<circle cx="604.77" cy="334.08" r="1.5" stroke="#007dfa"/>
<circle cx="603.59" cy="333.32" r="1.5" stroke="#007dfa"/>
<circle cx="603.22" cy="333.6" r="1.5" stroke="#007dfa"/>
<circle cx="605.03" cy="333.49" r="1.5" stroke="#007dfa"/>
<circle cx="552.02" cy="334.69" r="1.5" stroke="#007cf7"/>
<circle cx="550.72" cy="332.92" r="1.5" stroke="#007cf7"/>
<circle cx="551.37" cy="333.45" r="1.5" stroke="#007cf7"/>
<circle cx="551.6" cy="333.19" r="1.5" stroke="#007cf7"/>
<circle cx="552.24" cy="333.52" r="1.5" stroke="#007cf7"/>
<circle cx="550.14" cy="334.8" r="1.5" stroke="#007cf7"/>
<circle cx="552.56" cy="334.46" r="1.5" stroke="#007cf7"/>
<circle cx="551.45" cy="335.15" r="1.5" stroke="#007cf7"/>
<circle cx="551.26" cy="332.08" r="1.5" stroke="#007cf7"/>
<circle cx="550.77" cy="332.88" r="1.5" stroke="#007cf7"/>
<circle cx="551.18" cy="334.45" r="1.5" stroke="#007cf7"/>
<circle cx="552.45" cy="332.95" r="1.5" stroke="#007cf7"/>
<circle cx="552.2" cy="333.99" r="1.5" stroke="#007cf7"/>
<circle cx="552.69" cy="333.91" r="1.5" stroke="#007cf7"/>
<circle cx="552.45" cy="334.83" r="1.5" stroke="#007cf7"/>
<circle cx="552.1" cy="334.91" r="1.5" stroke="#007cf7"/>
<circle cx="550.51" cy="332.89" r="1.5" stroke="#007cf7"/>
<circle cx="551.09" cy="334.77" r="1.5" stroke="#007cf7"/>
<circle cx="552.24" cy="334.73" r="1.5" stroke="#007cf7"/>
<circle cx="551.55" cy="333.72" r="1.5" stroke="#007cf7"/>
<circle cx="550.32" cy="334.41" r="1.5" stroke="#007cf7"/>
<circle cx="551.79" cy="333.86" r="1.5" stroke="#007cf7"/>
<circle cx="550.62" cy="334.21" r="1.5" stroke="#007cf7"/>
<circle cx="551.91" cy="333.03" r="1.5" stroke="#007cf7"/>
<circle cx="552.68" cy="333.67" r="1.5" stroke="#007cf7"/>
<circle cx="552.23" cy="333.89" r="1.5" stroke="#007cf7"/>
<circle cx="552.75" cy="334.19" r="1.5" stroke="#007cf7"/>
<circle cx="550.74" cy="333.29" r="1.5" stroke="#007cf7"/>
<circle cx="550.9" cy="332.72" r="1.5" stroke="#007cf7"/>
<circle cx="550.05" cy="334.35" r="1.5" stroke="#007cf7"/>
<circle cx="550.7" cy="333.64" r="1.5" stroke="#007cf7"/>
<circle cx="551.97" cy="332.99" r="1.5" stroke="#007cf7"/>
<circle cx="551.11" cy="333.17" r="1.5" stroke="#007cf7"/>
<circle cx="550.74" cy="334.41" r="1.5" stroke="#007cf7"/>
<circle cx="550.02" cy="333.45" r="1.5" stroke="#007cf7"/>
<circle cx="569.69" cy="334.48" r="1.5" stroke="#007cf7"/>
<circle cx="569.79" cy="333.7" r="1.5" stroke="#007cf7"/>
<circle cx="567.66" cy="333.7" r="1.5" stroke="#007cf7"/>
<circle cx="568.49" cy="332.45" r="1.5" stroke="#007cf7"/>
<circle cx="569.43" cy="334.24" r="1.5" stroke="#007cf7"/>
<circle cx="568.09" cy="334.75" r="1.5" stroke="#007cf7"/>
<circle cx="569.47" cy="333.73" r="1.5" stroke="#007cf7"/>
<circle cx="567.23" cy="333.65" r="1.5" stroke="#007cf7"/>
<circle cx="567.21" cy="333.95" r="1.5" stroke="#007cf7"/>
<circle cx="567.32" cy="333.87" r="1.5" stroke="#007cf7"/>
<circle cx="568.12" cy="333.28" r="1.5" stroke="#007cf7"/>
<circle cx="568.64" cy="333.91" r="1.5" stroke="#007cf7"/>
<circle cx="569.54" cy="333.65" r="1.5" stroke="#007cf7"/>
<circle cx="568.62" cy="334.49" r="1.5" stroke="#007cf7"/>
<circle cx="567.38" cy="333.92" r="1.5" stroke="#007cf7"/>
<circle cx="567.43" cy="333.79" r="1.5" stroke="#007cf7"/>
<circle cx="568.42" cy="335.03" r="1.5" stroke="#007cf7"/>
<circle cx="569.45" cy="333.42" r="1.5" stroke="#007cf7"/>
<circle cx="567.64" cy="334.1" r="1.5" stroke="#007cf7"/>
<circle cx="567.8" cy="335.15" r="1.5" stroke="#007cf7"/>
<circle cx="567.31" cy="334.29" r="1.5" stroke="#007cf7"/>
<circle cx="568.57" cy="332.78" r="1.5" stroke="#007cf7"/>
<circle cx="567.93" cy="333.83" r="1.5" stroke="#007cf7"/>
<circle cx="569.3" cy="333.53" r="1.5" stroke="#007cf7"/>
<circle cx="567.76" cy="333.72" r="1.5" stroke="#007cf7"/>
<circle cx="568.51" cy="333.51" r="1.5" stroke="#007cf7"/>
<circle cx="567.51" cy="332.87" r="1.5" stroke="#007cf7"/>
<circle cx="567.12" cy="334.18" r="1.5" stroke="#007cf7"/>
<circle cx="568.61" cy="332.99" r="1.5" stroke="#007cf7"/>
<circle cx="569.24" cy="332.84" r="1.5" stroke="#007cf7"/>
<circle cx="568.88" cy="332.47" r="1.5" stroke="#007cf7"/>
<circle cx="568.74" cy="334.28" r="1.5" stroke="#007cf7"/>
<circle cx="567.3" cy="333.29" r="1.5" stroke="#007cf7"/>
<circle cx="569.29" cy="333.11" r="1.5" stroke="#007cf7"/>
<circle cx="569.23" cy="334.4" r="1.5" stroke="#007cf7"/>
<circle cx="585.88" cy="332.84" r="1.5" stroke="#007cf7"/>
<circle cx="586.59" cy="334.43" r="1.5" stroke="#007cf7"/>
<circle cx="586.67" cy="333.11" r="1.5" stroke="#007cf7"/>
<circle cx="586.56" cy="334.67" r="1.5" stroke="#007cf7"/>
<circle cx="586.99" cy="333.53" r="1.5" stroke="#007cf7"/>
<circle cx="586.86" cy="333.98" r="1.5" stroke="#007cf7"/>
<circle cx="586.41" cy="334.33" r="1.5" stroke="#007cf7"/>
<circle cx="585.6" cy="333.26" r="1.5" stroke="#007cf7"/>
<circle cx="585.21" cy="334.23" r="1.5" stroke="#007cf7"/>
<circle cx="586.39" cy="333.8" r="1.5" stroke="#007cf7"/>
<circle cx="586.15" cy="333.2" r="1.5" stroke="#007cf7"/>
<circle cx="586.55" cy="333.91" r="1.5" stroke="#007cf7"/>
<circle cx="585.29" cy="333.68" r="1.5" stroke="#007cf7"/>
<circle cx="586.54" cy="334.25" r="1.5" stroke="#007cf7"/>
<circle cx="586" cy="332.98" r="1.5" stroke="#007cf7"/>
<circle cx="585.85" cy="333.45" r="1.5" stroke="#007cf7"/>
<circle cx="585.78" cy="334.71" r="1.5" stroke="#007cf7"/>
<circle cx="586.32" cy="334.07" r="1.5" stroke="#007cf7"/>
<circle cx="586.63" cy="333.12" r="1.5" stroke="#007cf7"/>
<circle cx="585.36" cy="333.96" r="1.5" stroke="#007cf7"/>
<circle cx="585.73" cy="334.45" r="1.5" stroke="#007cf7"/>
<circle cx="586.65" cy="333.56" r="1.5" stroke="#007cf7"/>
<circle cx="586.01" cy="334.79" r="1.5" stroke="#007cf7"/>
<circle cx="585.63" cy="334.13" r="1.5" stroke="#007cf7"/>
<circle cx="586.45" cy="332.91" r="1.5" stroke="#007cf7"/>
<circle cx="602.95" cy="351.59" r="1.5" stroke="#007cf7"/>
<circle cx="604.27" cy="351.77" r="1.5" stroke="#007cf7"/>
<circle cx="604.74" cy="351.7" r="1.5" stroke="#007cf7"/>
<circle cx="605.11" cy="351.44" r="1.5" stroke="#007cf7"/>
<circle cx="604.55" cy="351.6" r="1.5" stroke="#007cf7"/>
<circle cx="604.57" cy="351.67" r="1.5" stroke="#007cf7"/>
<circle cx="602.98" cy="351.53" r="1.5" stroke="#007cf7"/>
<circle cx="604.5" cy="351.3" r="1.5" stroke="#007cf7"/>
<circle cx="603.43" cy="351.33" r="1.5" stroke="#007cf7"/>
<circle cx="602.89" cy="351.54" r="1.5" stroke="#007cf7"/>
<circle cx="604.4" cy="351.34" r="1.5" stroke="#007cf7"/>
<circle cx="603.7" cy="351.86" r="1.5" stroke="#007cf7"/>
<circle cx="604.39" cy="351.14" r="1.5" stroke="#007cf7"/>
<circle cx="603.16" cy="351.9" r="1.5" stroke="#007cf7"/>
<circle cx="604.23" cy="351.15" r="1.5" stroke="#007cf7"/>
<circle cx="603.8" cy="351.37" r="1.5" stroke="#007cf7"/>
<circle cx="604.16" cy="351.86" r="1.5" stroke="#007cf7"/>
<circle cx="604.65" cy="351.3" r="1.5" stroke="#007cf7"/>
<circle cx="603.21" cy="351.1" r="1.5" stroke="#007cf7"/>
<circle cx="603.28" cy="351.65" r="1.5" stroke="#007cf7"/>
<circle cx="585.15" cy="351.86" r="1.5" stroke="#0076eb"/>
<circle cx="587.61" cy="352.19" r="1.5" stroke="#0076eb"/>
<circle cx="585.83" cy="350.92" r="1.5" stroke="#0076eb"/>
<circle cx="588.18" cy="351.65" r="1.5" stroke="#0076eb"/>
<circle cx="584.82" cy="352.34" r="1.5" stroke="#0076eb"/>
<circle cx="583.91" cy="351.91" r="1.5" stroke="#0076eb"/>
<circle cx="587.22" cy="351.98" r="1.5" stroke="#0076eb"/>
<circle cx="585.95" cy="351.1" r="1.5" stroke="#0076eb"/>
<circle cx="584.68" cy="352.02" r="1.5" stroke="#0076eb"/>
<circle cx="586.09" cy="350.55" r="1.5" stroke="#0076eb"/>
<circle cx="587.06" cy="351.96" r="1.5" stroke="#0076eb"/>
<circle cx="587.54" cy="351.45" r="1.5" stroke="#0076eb"/>
<circle cx="586.99" cy="351.71" r="1.5" stroke="#0076eb"/>
<circle cx="587.54" cy="351.04" r="1.5" stroke="#0076eb"/>
<circle cx="584.68" cy="352.18" r="1.5" stroke="#0076eb"/>
<circle cx="586.99" cy="352.07" r="1.5" stroke="#0076eb"/>
<circle cx="585" cy="350.77" r="1.5" stroke="#0076eb"/>
<circle cx="585" cy="350.68" r="1.5" stroke="#0076eb"/>
<circle cx="586.37" cy="350.63" r="1.5" stroke="#0076eb"/>
<circle cx="584.68" cy="350.83" r="1.5" stroke="#0076eb"/>
<circle cx="586.13" cy="350.64" r="1.5" stroke="#0076eb"/>
<circle cx="587.75" cy="350.82" r="1.5" stroke="#0076eb"/>
<circle cx="585.64" cy="352.05" r="1.5" stroke="#0076eb"/>
<circle cx="584.31" cy="351.22" r="1.5" stroke="#0076eb"/>
<circle cx="587.75" cy="351.77" r="1.5" stroke="#0076eb"/>
<circle cx="584.26" cy="351.54" r="1.5" stroke="#0076eb"/>
<circle cx="587.76" cy="351.58" r="1.5" stroke="#0076eb"/>
<circle cx="584.95" cy="350.92" r="1.5" stroke="#0076eb"/>
<circle cx="588.11" cy="351.28" r="1.5" stroke="#0076eb"/>
<circle cx="584.57" cy="351.05" r="1.5" stroke="#0076eb"/>
<circle cx="586.57" cy="352.21" r="1.5" stroke="#0076eb"/>
<circle cx="586.89" cy="351.72" r="1.5" stroke="#0076eb"/>
<circle cx="585.34" cy="350.97" r="1.5" stroke="#0076eb"/>
<circle cx="586.96" cy="351.22" r="1.5" stroke="#0076eb"/>
<circle cx="585.08" cy="351.99" r="1.5" stroke="#0076eb"/>
<circle cx="584.19" cy="352.02" r="1.5" stroke="#0076eb"/>
<circle cx="586.28" cy="350.63" r="1.5" stroke="#0076eb"/>
<circle cx="587.63" cy="351.59" r="1.5" stroke="#0076eb"/>
<circle cx="586" cy="350.64" r="1.5" stroke="#0076eb"/>
<circle cx="586.37" cy="351.46" r="1.5" stroke="#0076eb"/>
<circle cx="566.74" cy="350.26" r="1.5" stroke="#0052a3"/>
<circle cx="568.33" cy="350.95" r="1.5" stroke="#0052a3"/>
<circle cx="568.03" cy="350.36" r="1.5" stroke="#0052a3"/>
<circle cx="565.54" cy="351" r="1.5" stroke="#0052a3"/>
<circle cx="570.58" cy="351.7" r="1.5" stroke="#0052a3"/>
<circle cx="568.59" cy="350.16" r="1.5" stroke="#0052a3"/>
<circle cx="567.82" cy="350.96" r="1.5" stroke="#0052a3"/>
<circle cx="568.92" cy="351.05" r="1.5" stroke="#0052a3"/>
<circle cx="569.88" cy="350.71" r="1.5" stroke="#0052a3"/>
<circle cx="566.21" cy="352.07" r="1.5" stroke="#0052a3"/>
<circle cx="570.17" cy="350.79" r="1.5" stroke="#0052a3"/>
<circle cx="568.71" cy="350.23" r="1.5" stroke="#0052a3"/>
<circle cx="570.93" cy="351.47" r="1.5" stroke="#0052a3"/>
<circle cx="567.07" cy="351.32" r="1.5" stroke="#0052a3"/>
<circle cx="567.46" cy="351.5" r="1.5" stroke="#0052a3"/>
<circle cx="567.71" cy="350.98" r="1.5" stroke="#0052a3"/>
<circle cx="569.49" cy="350.79" r="1.5" stroke="#0052a3"/>
<circle cx="570.04" cy="351.94" r="1.5" stroke="#0052a3"/>
<circle cx="570.21" cy="351.85" r="1.5" stroke="#0052a3"/>
<circle cx="568.21" cy="350.46" r="1.5" stroke="#0052a3"/>
<circle cx="569.88" cy="350.61" r="1.5" stroke="#0052a3"/>
<circle cx="569.29" cy="351.65" r="1.5" stroke="#0052a3"/>
<circle cx="569.49" cy="352.19" r="1.5" stroke="#0052a3"/>
<circle cx="567.99" cy="352.43" r="1.5" stroke="#0052a3"/>
<circle cx="567.8" cy="351.89" r="1.5" stroke="#0052a3"/>
<circle cx="569.6" cy="351.05" r="1.5" stroke="#0052a3"/>
<circle cx="569.98" cy="351.87" r="1.5" stroke="#0052a3"/>
<circle cx="566.28" cy="351.53" r="1.5" stroke="#0052a3"/>
<circle cx="568.11" cy="351.55" r="1.5" stroke="#0052a3"/>
<circle cx="567.62" cy="351.92" r="1.5" stroke="#0052a3"/>
<circle cx="568" cy="351.66" r="1.5" stroke="#0052a3"/>
<circle cx="569.75" cy="351.41" r="1.5" stroke="#0052a3"/>
<circle cx="566.08" cy="351.05" r="1.5" stroke="#0052a3"/>
<circle cx="569.07" cy="351.99" r="1.5" stroke="#0052a3"/>
<circle cx="565.76" cy="351.56" r="1.5" stroke="#0052a3"/>
<circle cx="567.35" cy="351.37" r="1.5" stroke="#0052a3"/>
<circle cx="568.96" cy="350.89" r="1.5" stroke="#0052a3"/>
<circle cx="570.86" cy="351.32" r="1.5" stroke="#0052a3"/>
<circle cx="567.35" cy="350.49" r="1.5" stroke="#0052a3"/>
<circle cx="568.34" cy="351.33" r="1.5" stroke="#0052a3"/>
<circle cx="568.24" cy="352.01" r="1.5" stroke="#0052a3"/>
<circle cx="569.22" cy="352.16" r="1.5" stroke="#0052a3"/>
<circle cx="568.74" cy="350.43" r="1.5" stroke="#0052a3"/>
<circle cx="568.72" cy="350.15" r="1.5" stroke="#0052a3"/>
<circle cx="567.76" cy="350.25" r="1.5" stroke="#0052a3"/>
<circle cx="565.66" cy="351.17" r="1.5" stroke="#0052a3"/>
<circle cx="570.09" cy="351.97" r="1.5" stroke="#0052a3"/>
<circle cx="568.85" cy="351.56" r="1.5" stroke="#0052a3"/>
<circle cx="568.3" cy="351.42" r="1.5" stroke="#0052a3"/>
<circle cx="569.2" cy="350.88" r="1.5" stroke="#0052a3"/>
<circle cx="569.84" cy="351.24" r="1.5" stroke="#0052a3"/>
<circle cx="569.46" cy="351.43" r="1.5" stroke="#0052a3"/>
<circle cx="570.21" cy="351.31" r="1.5" stroke="#0052a3"/>
<circle cx="565.9" cy="351.98" r="1.5" stroke="#0052a3"/>
<circle cx="566.68" cy="351.49" r="1.5" stroke="#0052a3"/>
<circle cx="551.23" cy="340.53" r="1.5" stroke="#002040"/>
<circle cx="551.23" cy="343.01" r="1.5" stroke="#002040"/>
<circle cx="552.74" cy="351.07" r="1.5" stroke="#000000"/>
<circle cx="551.96" cy="351.9" r="1.5" stroke="#000000"/>
<circle cx="551.61" cy="350.07" r="1.5" stroke="#000000"/>
<circle cx="550.95" cy="352.37" r="1.5" stroke="#000000"/>
<circle cx="550.48" cy="350.02" r="1.5" stroke="#000000"/>
<circle cx="550.18" cy="351.27" r="1.5" stroke="#000000"/>
<circle cx="550.35" cy="350.93" r="1.5" stroke="#000000"/>
<circle cx="552" cy="351.87" r="1.5" stroke="#000000"/>
<circle cx="551.05" cy="352.06" r="1.5" stroke="#000000"/>
<circle cx="551.52" cy="352.18" r="1.5" stroke="#000000"/>
<circle cx="550.55" cy="350.81" r="1.5" stroke="#000000"/>
<circle cx="551.54" cy="352.54" r="1.5" stroke="#000000"/>
<circle cx="551.66" cy="351.12" r="1.5" stroke="#000000"/>
<circle cx="550.55" cy="350.54" r="1.5" stroke="#000000"/>
<circle cx="551.39" cy="351.83" r="1.5" stroke="#000000"/>
<circle cx="550.69" cy="351.14" r="1.5" stroke="#000000"/>
<circle cx="550.24" cy="350.96" r="1.5" stroke="#000000"/>
<circle cx="550.56" cy="350" r="1.5" stroke="#000000"/>
<circle cx="552.24" cy="351.8" r="1.5" stroke="#000000"/>
<circle cx="550.07" cy="351.16" r="1.5" stroke="#000000"/>
<circle cx="551.49" cy="352.02" r="1.5" stroke="#000000"/>
<circle cx="551.93" cy="350.58" r="1.5" stroke="#000000"/>
<circle cx="551.45" cy="351.49" r="1.5" stroke="#000000"/>
<circle cx="550.98" cy="352.16" r="1.5" stroke="#000000"/>
<circle cx="551.13" cy="351.95" r="1.5" stroke="#000000"/>
<circle cx="549.99" cy="351.03" r="1.5" stroke="#000000"/>
<circle cx="549.93" cy="351.64" r="1.5" stroke="#000000"/>
<circle cx="552.42" cy="351.33" r="1.5" stroke="#000000"/>
<circle cx="551.5" cy="351.57" r="1.5" stroke="#000000"/>
<circle cx="550.49" cy="350.86" r="1.5" stroke="#000000"/>
<circle cx="551.54" cy="351.64" r="1.5" stroke="#000000"/>
<circle cx="550.94" cy="351.13" r="1.5" stroke="#000000"/>
<circle cx="550.79" cy="351.36" r="1.5" stroke="#000000"/>
<circle cx="551.83" cy="350.68" r="1.5" stroke="#000000"/>
<circle cx="551.85" cy="352.25" r="1.5" stroke="#000000"/>
<circle cx="551.41" cy="352.64" r="1.5" stroke="#000000"/>
<circle cx="550.73" cy="352.46" r="1.5" stroke="#000000"/>
<circle cx="550.35" cy="350.79" r="1.5" stroke="#000000"/>
<circle cx="551.64" cy="352.31" r="1.5" stroke="#000000"/>
<circle cx="552.63" cy="351.75" r="1.5" stroke="#000000"/>
<circle cx="550.84" cy="350.7" r="1.5" stroke="#000000"/>
<circle cx="551.69" cy="349.9" r="1.5" stroke="#000000"/>
<circle cx="551.68" cy="350.19" r="1.5" stroke="#000000"/>
<circle cx="551.09" cy="350.57" r="1.5" stroke="#000000"/>
<circle cx="552.41" cy="350.56" r="1.5" stroke="#000000"/>
</g>
<text x="550.7" y="368.9" font-size="12" text-anchor="middle" >0</text>
<text x="546" y="357.1" font-size="12" text-anchor="end" >0</text>
<text x="568.39" y="368.9" font-size="12" text-anchor="middle" >1</text>
<text x="546" y="339.41" font-size="12" text-anchor="end" >1</text>
<text x="586.08" y="368.9" font-size="12" text-anchor="middle" >2</text>
<text x="546" y="321.72" font-size="12" text-anchor="end" >2</text>
<text x="603.78" y="368.9" font-size="12" text-anchor="middle" >3</text>
<text x="546" y="304.02" font-size="12" text-anchor="end" >3</text>
<text x="621.47" y="368.9" font-size="12" text-anchor="middle" >4</text>
<text x="546" y="286.33" font-size="12" text-anchor="end" >4</text>
<text x="639.16" y="368.9" font-size="12" text-anchor="middle" >5</text>
<text x="546" y="268.64" font-size="12" text-anchor="end" >5</text>
<text x="656.85" y="368.9" font-size="12" text-anchor="middle" >6</text>
<text x="546" y="250.95" font-size="12" text-anchor="end" >6</text>
<text x="608.2" y="385.8" font-size="13.1" text-anchor="middle" >H-Polarized</text>
<text transform="translate(533.2,294) rotate(-90)" font-size="13.3" text-anchor="middle">V-Polarized</text>
<text x="597.5" y="253.6" font-size="12" text-anchor="start" >(h) T=500 fs</text>
<text x="596.7" y="270.6" font-size="12" text-anchor="start"><tspan font-style="italic" font-size="10.32" textLength="4.8" lengthAdjust="spacingAndGlyphs">θ</tspan><tspan font-size="9.6" dy="5.64" dx="0.9">qwp</tspan><tspan dy="-5.64" dx="0.9">= 45°</tspan></text>
</svg>
</body></html>
